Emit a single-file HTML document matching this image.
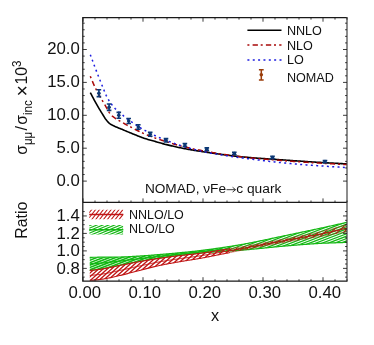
<!DOCTYPE html>
<html><head><meta charset="utf-8"><title>chart</title><style>html,body{margin:0;padding:0;background:#fff;}body{width:374px;height:345px;overflow:hidden;font-family:"Liberation Sans",sans-serif;}svg{display:block;will-change:transform;}</style></head><body>
<svg width="374" height="345" viewBox="0 0 374 345">
<rect width="374" height="345" fill="#fff"/>
<defs><clipPath id="c1"><rect x="82.8" y="17.7" width="264.2" height="184.7"/></clipPath><clipPath id="c2"><rect x="82.8" y="202.4" width="264.2" height="78.8"/></clipPath></defs>
<defs><clipPath id="cg"><path d="M89.8 257.3 L91.09 257.29 L92.39 257.27 L93.68 257.26 L94.98 257.25 L96.27 257.24 L97.57 257.22 L98.86 257.21 L100.16 257.2 L101.45 257.19 L102.75 257.17 L104.04 257.16 L105.34 257.15 L106.63 257.14 L107.93 257.13 L109.22 257.12 L110.52 257.11 L111.81 257.1 L113.11 257.09 L114.4 257.08 L115.7 257.06 L116.99 257.04 L118.29 257.03 L119.58 257.01 L120.88 256.98 L122.17 256.95 L123.47 256.91 L124.76 256.86 L126.06 256.81 L127.35 256.75 L128.65 256.68 L129.94 256.61 L131.24 256.54 L132.53 256.46 L133.83 256.38 L135.12 256.3 L136.42 256.22 L137.71 256.14 L139.01 256.06 L140.3 255.98 L141.6 255.9 L142.89 255.82 L144.19 255.73 L145.48 255.64 L146.78 255.55 L148.07 255.45 L149.37 255.35 L150.66 255.25 L151.96 255.15 L153.25 255.05 L154.55 254.94 L155.84 254.84 L157.14 254.73 L158.43 254.63 L159.73 254.52 L161.02 254.42 L162.32 254.31 L163.61 254.2 L164.91 254.09 L166.2 253.98 L167.5 253.86 L168.79 253.75 L170.09 253.63 L171.38 253.51 L172.68 253.39 L173.97 253.27 L175.27 253.15 L176.56 253.03 L177.86 252.91 L179.15 252.78 L180.45 252.66 L181.74 252.53 L183.04 252.4 L184.33 252.28 L185.63 252.15 L186.92 252.02 L188.22 251.89 L189.51 251.75 L190.81 251.62 L192.1 251.48 L193.4 251.34 L194.69 251.2 L195.99 251.06 L197.28 250.91 L198.58 250.77 L199.87 250.62 L201.17 250.46 L202.46 250.3 L203.76 250.14 L205.05 249.97 L206.35 249.81 L207.64 249.63 L208.94 249.46 L210.23 249.28 L211.53 249.1 L212.82 248.92 L214.12 248.74 L215.41 248.56 L216.71 248.37 L218 248.19 L219.3 248 L220.59 247.81 L221.89 247.63 L223.18 247.44 L224.48 247.25 L225.77 247.06 L227.07 246.86 L228.36 246.67 L229.66 246.47 L230.95 246.27 L232.25 246.07 L233.54 245.87 L234.84 245.66 L236.13 245.45 L237.43 245.24 L238.72 245.02 L240.02 244.8 L241.31 244.57 L242.61 244.34 L243.9 244.1 L245.2 243.86 L246.49 243.61 L247.79 243.36 L249.08 243.11 L250.38 242.85 L251.67 242.59 L252.97 242.33 L254.26 242.07 L255.56 241.8 L256.85 241.54 L258.15 241.28 L259.44 241.01 L260.74 240.75 L262.03 240.49 L263.33 240.22 L264.62 239.95 L265.92 239.68 L267.21 239.41 L268.51 239.14 L269.8 238.86 L271.1 238.59 L272.39 238.31 L273.69 238.04 L274.98 237.76 L276.28 237.49 L277.57 237.21 L278.87 236.94 L280.16 236.67 L281.46 236.39 L282.75 236.12 L284.05 235.85 L285.34 235.58 L286.64 235.31 L287.93 235.03 L289.23 234.76 L290.52 234.49 L291.82 234.22 L293.11 233.95 L294.41 233.67 L295.7 233.4 L297 233.13 L298.29 232.86 L299.59 232.59 L300.88 232.32 L302.18 232.04 L303.47 231.77 L304.77 231.5 L306.06 231.23 L307.36 230.96 L308.65 230.69 L309.95 230.42 L311.24 230.15 L312.54 229.88 L313.83 229.61 L315.13 229.34 L316.42 229.06 L317.72 228.79 L319.01 228.51 L320.31 228.23 L321.6 227.95 L322.9 227.67 L324.19 227.39 L325.49 227.11 L326.78 226.82 L328.08 226.54 L329.37 226.25 L330.67 225.96 L331.96 225.68 L333.26 225.39 L334.55 225.1 L335.85 224.81 L337.14 224.52 L338.44 224.23 L339.73 223.94 L341.03 223.65 L342.32 223.36 L343.62 223.07 L344.91 222.78 L346.21 222.49 L347.5 222.2 L347.5 242.4 L346.21 242.44 L344.91 242.48 L343.62 242.52 L342.32 242.56 L341.03 242.6 L339.73 242.64 L338.44 242.68 L337.14 242.73 L335.85 242.77 L334.55 242.82 L333.26 242.86 L331.96 242.91 L330.67 242.95 L329.37 243 L328.08 243.05 L326.78 243.1 L325.49 243.15 L324.19 243.21 L322.9 243.26 L321.6 243.32 L320.31 243.38 L319.01 243.45 L317.72 243.52 L316.42 243.6 L315.13 243.68 L313.83 243.76 L312.54 243.85 L311.24 243.94 L309.95 244.04 L308.65 244.13 L307.36 244.23 L306.06 244.33 L304.77 244.43 L303.47 244.53 L302.18 244.63 L300.88 244.73 L299.59 244.83 L298.29 244.93 L297 245.03 L295.7 245.14 L294.41 245.24 L293.11 245.35 L291.82 245.46 L290.52 245.57 L289.23 245.68 L287.93 245.79 L286.64 245.9 L285.34 246.02 L284.05 246.13 L282.75 246.25 L281.46 246.37 L280.16 246.49 L278.87 246.61 L277.57 246.73 L276.28 246.86 L274.98 246.98 L273.69 247.11 L272.39 247.25 L271.1 247.38 L269.8 247.51 L268.51 247.65 L267.21 247.78 L265.92 247.91 L264.62 248.05 L263.33 248.18 L262.03 248.3 L260.74 248.43 L259.44 248.55 L258.15 248.68 L256.85 248.8 L255.56 248.92 L254.26 249.05 L252.97 249.17 L251.67 249.29 L250.38 249.41 L249.08 249.53 L247.79 249.65 L246.49 249.77 L245.2 249.88 L243.9 249.99 L242.61 250.1 L241.31 250.2 L240.02 250.3 L238.72 250.39 L237.43 250.49 L236.13 250.57 L234.84 250.66 L233.54 250.74 L232.25 250.83 L230.95 250.91 L229.66 250.99 L228.36 251.06 L227.07 251.14 L225.77 251.22 L224.48 251.3 L223.18 251.39 L221.89 251.47 L220.59 251.56 L219.3 251.65 L218 251.74 L216.71 251.83 L215.41 251.92 L214.12 252.01 L212.82 252.1 L211.53 252.19 L210.23 252.28 L208.94 252.38 L207.64 252.48 L206.35 252.57 L205.05 252.68 L203.76 252.78 L202.46 252.89 L201.17 253 L199.87 253.11 L198.58 253.23 L197.28 253.35 L195.99 253.48 L194.69 253.61 L193.4 253.75 L192.1 253.89 L190.81 254.03 L189.51 254.17 L188.22 254.32 L186.92 254.47 L185.63 254.62 L184.33 254.78 L183.04 254.93 L181.74 255.09 L180.45 255.25 L179.15 255.4 L177.86 255.56 L176.56 255.72 L175.27 255.89 L173.97 256.06 L172.68 256.22 L171.38 256.4 L170.09 256.57 L168.79 256.75 L167.5 256.92 L166.2 257.1 L164.91 257.29 L163.61 257.47 L162.32 257.66 L161.02 257.85 L159.73 258.04 L158.43 258.23 L157.14 258.43 L155.84 258.63 L154.55 258.84 L153.25 259.04 L151.96 259.25 L150.66 259.46 L149.37 259.68 L148.07 259.9 L146.78 260.12 L145.48 260.34 L144.19 260.56 L142.89 260.79 L141.6 261.02 L140.3 261.25 L139.01 261.48 L137.71 261.72 L136.42 261.96 L135.12 262.2 L133.83 262.45 L132.53 262.7 L131.24 262.96 L129.94 263.21 L128.65 263.47 L127.35 263.73 L126.06 263.99 L124.76 264.25 L123.47 264.51 L122.17 264.77 L120.88 265.03 L119.58 265.28 L118.29 265.54 L116.99 265.81 L115.7 266.09 L114.4 266.37 L113.11 266.65 L111.81 266.92 L110.52 267.2 L109.22 267.48 L107.93 267.75 L106.63 268.01 L105.34 268.27 L104.04 268.51 L102.75 268.75 L101.45 268.97 L100.16 269.18 L98.86 269.37 L97.57 269.54 L96.27 269.71 L94.98 269.87 L93.68 270.03 L92.39 270.18 L91.09 270.34 L89.8 270.5Z"/></clipPath><clipPath id="cr"><path d="M89.8 270.5 L91.09 270.35 L92.39 270.21 L93.68 270.07 L94.98 269.92 L96.27 269.78 L97.57 269.62 L98.86 269.46 L100.16 269.28 L101.45 269.08 L102.75 268.87 L104.04 268.65 L105.34 268.41 L106.63 268.16 L107.93 267.9 L109.22 267.64 L110.52 267.37 L111.81 267.1 L113.11 266.82 L114.4 266.55 L115.7 266.28 L116.99 266.01 L118.29 265.74 L119.58 265.48 L120.88 265.23 L122.17 264.97 L123.47 264.72 L124.76 264.46 L126.06 264.2 L127.35 263.94 L128.65 263.68 L129.94 263.42 L131.24 263.16 L132.53 262.91 L133.83 262.66 L135.12 262.41 L136.42 262.16 L137.71 261.92 L139.01 261.68 L140.3 261.45 L141.6 261.22 L142.89 260.99 L144.19 260.76 L145.48 260.53 L146.78 260.31 L148.07 260.09 L149.37 259.87 L150.66 259.66 L151.96 259.44 L153.25 259.23 L154.55 259.03 L155.84 258.83 L157.14 258.63 L158.43 258.43 L159.73 258.24 L161.02 258.05 L162.32 257.87 L163.61 257.69 L164.91 257.51 L166.2 257.34 L167.5 257.17 L168.79 257 L170.09 256.83 L171.38 256.67 L172.68 256.5 L173.97 256.34 L175.27 256.18 L176.56 256.02 L177.86 255.86 L179.15 255.7 L180.45 255.55 L181.74 255.39 L183.04 255.24 L184.33 255.09 L185.63 254.95 L186.92 254.81 L188.22 254.67 L189.51 254.52 L190.81 254.38 L192.1 254.24 L193.4 254.09 L194.69 253.95 L195.99 253.8 L197.28 253.64 L198.58 253.48 L199.87 253.32 L201.17 253.15 L202.46 252.97 L203.76 252.79 L205.05 252.6 L206.35 252.41 L207.64 252.22 L208.94 252.02 L210.23 251.83 L211.53 251.63 L212.82 251.42 L214.12 251.22 L215.41 251.02 L216.71 250.81 L218 250.61 L219.3 250.41 L220.59 250.21 L221.89 250.01 L223.18 249.81 L224.48 249.6 L225.77 249.4 L227.07 249.2 L228.36 248.99 L229.66 248.79 L230.95 248.58 L232.25 248.37 L233.54 248.16 L234.84 247.95 L236.13 247.74 L237.43 247.53 L238.72 247.31 L240.02 247.1 L241.31 246.88 L242.61 246.66 L243.9 246.44 L245.2 246.22 L246.49 245.99 L247.79 245.77 L249.08 245.54 L250.38 245.32 L251.67 245.09 L252.97 244.86 L254.26 244.63 L255.56 244.4 L256.85 244.17 L258.15 243.93 L259.44 243.7 L260.74 243.47 L262.03 243.23 L263.33 243 L264.62 242.76 L265.92 242.53 L267.21 242.29 L268.51 242.05 L269.8 241.81 L271.1 241.57 L272.39 241.33 L273.69 241.09 L274.98 240.85 L276.28 240.6 L277.57 240.36 L278.87 240.11 L280.16 239.87 L281.46 239.62 L282.75 239.38 L284.05 239.13 L285.34 238.88 L286.64 238.63 L287.93 238.38 L289.23 238.13 L290.52 237.87 L291.82 237.62 L293.11 237.37 L294.41 237.11 L295.7 236.85 L297 236.6 L298.29 236.34 L299.59 236.08 L300.88 235.82 L302.18 235.57 L303.47 235.31 L304.77 235.06 L306.06 234.81 L307.36 234.55 L308.65 234.3 L309.95 234.04 L311.24 233.78 L312.54 233.51 L313.83 233.25 L315.13 232.98 L316.42 232.7 L317.72 232.42 L319.01 232.13 L320.31 231.83 L321.6 231.52 L322.9 231.21 L324.19 230.88 L325.49 230.55 L326.78 230.21 L328.08 229.87 L329.37 229.52 L330.67 229.18 L331.96 228.82 L333.26 228.47 L334.55 228.12 L335.85 227.77 L337.14 227.42 L338.44 227.06 L339.73 226.69 L341.03 226.33 L342.32 225.96 L343.62 225.6 L344.91 225.23 L346.21 224.86 L347.5 224.5 L347.5 231.5 L346.21 231.74 L344.91 231.98 L343.62 232.22 L342.32 232.46 L341.03 232.69 L339.73 232.93 L338.44 233.17 L337.14 233.41 L335.85 233.65 L334.55 233.88 L333.26 234.12 L331.96 234.36 L330.67 234.6 L329.37 234.83 L328.08 235.07 L326.78 235.31 L325.49 235.54 L324.19 235.78 L322.9 236 L321.6 236.23 L320.31 236.45 L319.01 236.66 L317.72 236.87 L316.42 237.08 L315.13 237.28 L313.83 237.48 L312.54 237.68 L311.24 237.88 L309.95 238.07 L308.65 238.27 L307.36 238.46 L306.06 238.66 L304.77 238.85 L303.47 239.05 L302.18 239.25 L300.88 239.46 L299.59 239.67 L298.29 239.88 L297 240.09 L295.7 240.3 L294.41 240.52 L293.11 240.74 L291.82 240.95 L290.52 241.17 L289.23 241.39 L287.93 241.62 L286.64 241.84 L285.34 242.06 L284.05 242.29 L282.75 242.52 L281.46 242.74 L280.16 242.97 L278.87 243.2 L277.57 243.43 L276.28 243.67 L274.98 243.9 L273.69 244.14 L272.39 244.38 L271.1 244.62 L269.8 244.86 L268.51 245.1 L267.21 245.34 L265.92 245.58 L264.62 245.83 L263.33 246.07 L262.03 246.31 L260.74 246.56 L259.44 246.81 L258.15 247.05 L256.85 247.3 L255.56 247.55 L254.26 247.8 L252.97 248.06 L251.67 248.31 L250.38 248.56 L249.08 248.82 L247.79 249.07 L246.49 249.33 L245.2 249.58 L243.9 249.84 L242.61 250.09 L241.31 250.34 L240.02 250.6 L238.72 250.85 L237.43 251.1 L236.13 251.35 L234.84 251.61 L233.54 251.86 L232.25 252.11 L230.95 252.36 L229.66 252.62 L228.36 252.87 L227.07 253.12 L225.77 253.37 L224.48 253.63 L223.18 253.88 L221.89 254.13 L220.59 254.38 L219.3 254.64 L218 254.89 L216.71 255.15 L215.41 255.41 L214.12 255.67 L212.82 255.93 L211.53 256.19 L210.23 256.44 L208.94 256.7 L207.64 256.96 L206.35 257.21 L205.05 257.46 L203.76 257.71 L202.46 257.95 L201.17 258.19 L199.87 258.42 L198.58 258.65 L197.28 258.87 L195.99 259.09 L194.69 259.31 L193.4 259.52 L192.1 259.72 L190.81 259.93 L189.51 260.14 L188.22 260.34 L186.92 260.55 L185.63 260.76 L184.33 260.97 L183.04 261.18 L181.74 261.4 L180.45 261.62 L179.15 261.85 L177.86 262.07 L176.56 262.3 L175.27 262.52 L173.97 262.75 L172.68 262.98 L171.38 263.21 L170.09 263.44 L168.79 263.68 L167.5 263.92 L166.2 264.16 L164.91 264.41 L163.61 264.66 L162.32 264.92 L161.02 265.19 L159.73 265.46 L158.43 265.74 L157.14 266.03 L155.84 266.32 L154.55 266.63 L153.25 266.94 L151.96 267.26 L150.66 267.58 L149.37 267.91 L148.07 268.23 L146.78 268.57 L145.48 268.9 L144.19 269.23 L142.89 269.56 L141.6 269.89 L140.3 270.22 L139.01 270.55 L137.71 270.89 L136.42 271.23 L135.12 271.58 L133.83 271.93 L132.53 272.28 L131.24 272.63 L129.94 272.98 L128.65 273.33 L127.35 273.67 L126.06 274.01 L124.76 274.35 L123.47 274.67 L122.17 274.99 L120.88 275.3 L119.58 275.59 L118.29 275.89 L116.99 276.19 L115.7 276.49 L114.4 276.79 L113.11 277.08 L111.81 277.37 L110.52 277.66 L109.22 277.94 L107.93 278.2 L106.63 278.46 L105.34 278.7 L104.04 278.92 L102.75 279.13 L101.45 279.31 L100.16 279.48 L98.86 279.63 L97.57 279.76 L96.27 279.87 L94.98 279.98 L93.68 280.08 L92.39 280.19 L91.09 280.29 L89.8 280.4Z"/></clipPath><clipPath id="cgl"><rect x="80" y="200" width="150" height="90"/></clipPath><clipPath id="cgr"><rect x="230" y="200" width="130" height="90"/></clipPath><clipPath id="lg1"><rect x="89.2" y="209.8" width="34.1" height="9.4"/></clipPath><clipPath id="lg2"><rect x="89.2" y="225.0" width="34.1" height="9.4"/></clipPath></defs>
<g clip-path="url(#c2)" fill="none" stroke-linecap="butt">
<g clip-path="url(#cg)"><g clip-path="url(#cgl)"><path d="M89 215L348 115.58 M89 217.4L348 117.98 M89 219.8L348 120.38 M89 222.2L348 122.78 M89 224.6L348 125.18 M89 227L348 127.58 M89 229.4L348 129.98 M89 231.8L348 132.38 M89 234.2L348 134.78 M89 236.6L348 137.18 M89 239L348 139.58 M89 241.4L348 141.98 M89 243.8L348 144.38 M89 246.2L348 146.78 M89 248.6L348 149.18 M89 251L348 151.58 M89 253.4L348 153.98 M89 255.8L348 156.38 M89 258.2L348 158.78 M89 260.6L348 161.18 M89 263L348 163.58 M89 265.4L348 165.98 M89 267.8L348 168.38 M89 270.2L348 170.78 M89 272.6L348 173.18 M89 275L348 175.58 M89 277.4L348 177.98 M89 279.8L348 180.38 M89 282.2L348 182.78 M89 284.6L348 185.18 M89 287L348 187.58 M89 289.4L348 189.98 M89 291.8L348 192.38 M89 294.2L348 194.78 M89 296.6L348 197.18 M89 299L348 199.58 M89 301.4L348 201.98 M89 303.8L348 204.38 M89 306.2L348 206.78 M89 308.6L348 209.18 M89 311L348 211.58 M89 313.4L348 213.98 M89 315.8L348 216.38 M89 318.2L348 218.78 M89 320.6L348 221.18 M89 323L348 223.58 M89 325.4L348 225.98 M89 327.8L348 228.38 M89 330.2L348 230.78 M89 332.6L348 233.18 M89 335L348 235.58 M89 337.4L348 237.98 M89 339.8L348 240.38 M89 342.2L348 242.78 M89 344.6L348 245.18 M89 347L348 247.58 M89 349.4L348 249.98 M89 351.8L348 252.38 M89 354.2L348 254.78 M89 356.6L348 257.18 M89 359L348 259.58 M89 361.4L348 261.98 M89 363.8L348 264.38 M89 366.2L348 266.78 M89 368.6L348 269.18 M89 371L348 271.58" stroke="#14b814" stroke-width="1.6"/></g><g clip-path="url(#cgr)"><path d="M89 215L348 115.58 M89 217.4L348 117.98 M89 219.8L348 120.38 M89 222.2L348 122.78 M89 224.6L348 125.18 M89 227L348 127.58 M89 229.4L348 129.98 M89 231.8L348 132.38 M89 234.2L348 134.78 M89 236.6L348 137.18 M89 239L348 139.58 M89 241.4L348 141.98 M89 243.8L348 144.38 M89 246.2L348 146.78 M89 248.6L348 149.18 M89 251L348 151.58 M89 253.4L348 153.98 M89 255.8L348 156.38 M89 258.2L348 158.78 M89 260.6L348 161.18 M89 263L348 163.58 M89 265.4L348 165.98 M89 267.8L348 168.38 M89 270.2L348 170.78 M89 272.6L348 173.18 M89 275L348 175.58 M89 277.4L348 177.98 M89 279.8L348 180.38 M89 282.2L348 182.78 M89 284.6L348 185.18 M89 287L348 187.58 M89 289.4L348 189.98 M89 291.8L348 192.38 M89 294.2L348 194.78 M89 296.6L348 197.18 M89 299L348 199.58 M89 301.4L348 201.98 M89 303.8L348 204.38 M89 306.2L348 206.78 M89 308.6L348 209.18 M89 311L348 211.58 M89 313.4L348 213.98 M89 315.8L348 216.38 M89 318.2L348 218.78 M89 320.6L348 221.18 M89 323L348 223.58 M89 325.4L348 225.98 M89 327.8L348 228.38 M89 330.2L348 230.78 M89 332.6L348 233.18 M89 335L348 235.58 M89 337.4L348 237.98 M89 339.8L348 240.38 M89 342.2L348 242.78 M89 344.6L348 245.18 M89 347L348 247.58 M89 349.4L348 249.98 M89 351.8L348 252.38 M89 354.2L348 254.78 M89 356.6L348 257.18 M89 359L348 259.58 M89 361.4L348 261.98 M89 363.8L348 264.38 M89 366.2L348 266.78 M89 368.6L348 269.18 M89 371L348 271.58" stroke="#14b814" stroke-width="1.25"/></g></g>
<path d="M89.8 257.3 L90.79 257.29 L91.79 257.28 L92.78 257.27 L93.78 257.26 L94.77 257.25 L95.77 257.24 L96.76 257.23 L97.76 257.22 L98.75 257.21 L99.75 257.2 L100.74 257.19 L101.74 257.18 L102.73 257.18 L103.73 257.17 L104.72 257.16 L105.72 257.15 L106.71 257.14 L107.71 257.14 L108.7 257.13 L109.7 257.12 L110.69 257.11 L111.69 257.1 L112.68 257.09 L113.68 257.08 L114.67 257.07 L115.67 257.06 L116.66 257.05 L117.66 257.04 L118.65 257.02 L119.65 257.01 L120.64 256.99 L121.64 256.97 L122.63 256.94 L123.63 256.9 L124.62 256.87 L125.62 256.83 L126.61 256.78 L127.61 256.73 L128.6 256.68 L129.6 256.63 L130.59 256.57 L131.59 256.52 L132.58 256.46 L133.58 256.4 L134.57 256.34 L135.57 256.27 L136.56 256.21 L137.56 256.15 L138.55 256.09 L139.55 256.03 L140.54 255.97 L141.54 255.9 L142.53 255.84 L143.53 255.77 L144.52 255.71 L145.52 255.64 L146.51 255.57 L147.51 255.49 L148.5 255.42 L149.5 255.34 L150.49 255.27 L151.49 255.19 L152.48 255.11 L153.48 255.03 L154.47 254.95 L155.47 254.87 L156.46 254.79 L157.46 254.71 L158.45 254.63 L159.45 254.55 L160.44 254.46 L161.44 254.38 L162.43 254.3 L163.43 254.21 L164.42 254.13 L165.42 254.04 L166.41 253.96 L167.41 253.87 L168.4 253.78 L169.4 253.69 L170.39 253.6 L171.39 253.51 L172.38 253.42 L173.38 253.33 L174.37 253.24 L175.37 253.14 L176.36 253.05 L177.36 252.95 L178.35 252.86 L179.35 252.76 L180.34 252.67 L181.34 252.57 L182.33 252.47 L183.33 252.38 L184.32 252.28 L185.32 252.18 L186.31 252.08 L187.31 251.98 L188.3 251.88 L189.3 251.78 L190.29 251.67 L191.29 251.57 L192.28 251.46 L193.28 251.36 L194.27 251.25 L195.27 251.14 L196.26 251.03 L197.26 250.92 L198.25 250.8 L199.25 250.69 L200.24 250.57 L201.24 250.45 L202.23 250.33 L203.23 250.21 L204.22 250.08 L205.22 249.95 L206.21 249.82 L207.21 249.69 L208.2 249.56 L209.2 249.42 L210.19 249.29 L211.19 249.15 L212.18 249.01 L213.18 248.87 L214.17 248.73 L215.17 248.59 L216.16 248.45 L217.16 248.31 L218.15 248.17 L219.15 248.02 L220.14 247.88 L221.14 247.74 L222.13 247.59 L223.13 247.45 L224.12 247.3 L225.12 247.15 L226.11 247.01 L227.11 246.86 L228.1 246.71 L229.1 246.56 L230.09 246.41 L231.09 246.25 L232.08 246.1 L233.08 245.94 L234.07 245.78 L235.07 245.62 L236.06 245.46 L237.06 245.3 L238.05 245.13 L239.05 244.96 L240.04 244.79 L241.04 244.62 L242.03 244.44 L243.03 244.26 L244.02 244.08 L245.02 243.89 L246.01 243.7 L247.01 243.51 L248 243.32 L249 243.12 L249.99 242.93 L250.99 242.73 L251.98 242.53 L252.98 242.33 L253.97 242.13 L254.97 241.92 L255.96 241.72 L256.96 241.52 L257.95 241.32 L258.95 241.11 L259.94 240.91 L260.94 240.71 L261.93 240.51 L262.93 240.3 L263.92 240.1 L264.92 239.89 L265.91 239.68 L266.91 239.47 L267.9 239.26 L268.9 239.05 L269.89 238.84 L270.89 238.63 L271.88 238.42 L272.88 238.21 L273.87 238 L274.87 237.79 L275.86 237.57 L276.86 237.36 L277.85 237.15 L278.85 236.94 L279.84 236.73 L280.84 236.52 L281.83 236.32 L282.83 236.11 L283.82 235.9 L284.82 235.69 L285.81 235.48 L286.81 235.27 L287.8 235.06 L288.8 234.85 L289.79 234.64 L290.79 234.43 L291.78 234.23 L292.78 234.02 L293.77 233.81 L294.77 233.6 L295.76 233.39 L296.76 233.18 L297.75 232.97 L298.75 232.76 L299.74 232.55 L300.74 232.35 L301.73 232.14 L302.73 231.93 L303.72 231.72 L304.72 231.51 L305.71 231.31 L306.71 231.1 L307.7 230.89 L308.7 230.68 L309.69 230.48 L310.69 230.27 L311.68 230.06 L312.68 229.85 L313.67 229.64 L314.67 229.43 L315.66 229.22 L316.66 229.01 L317.65 228.8 L318.65 228.59 L319.64 228.38 L320.64 228.16 L321.63 227.95 L322.63 227.73 L323.62 227.52 L324.62 227.3 L325.61 227.08 L326.61 226.86 L327.6 226.64 L328.6 226.42 L329.59 226.2 L330.59 225.98 L331.58 225.76 L332.58 225.54 L333.57 225.32 L334.57 225.1 L335.56 224.88 L336.56 224.65 L337.55 224.43 L338.55 224.21 L339.54 223.99 L340.54 223.76 L341.53 223.54 L342.53 223.32 L343.52 223.09 L344.52 222.87 L345.51 222.65 L346.51 222.42 L347.5 222.2" stroke="#14b814" stroke-width="1.2"/>
<path d="M89.8 270.5 L90.79 270.38 L91.79 270.25 L92.78 270.13 L93.78 270.02 L94.77 269.9 L95.77 269.77 L96.76 269.65 L97.76 269.52 L98.75 269.38 L99.75 269.24 L100.74 269.08 L101.74 268.92 L102.73 268.75 L103.73 268.57 L104.72 268.39 L105.72 268.19 L106.71 268 L107.71 267.79 L108.7 267.59 L109.7 267.38 L110.69 267.17 L111.69 266.95 L112.68 266.74 L113.68 266.52 L114.67 266.31 L115.67 266.09 L116.66 265.88 L117.66 265.68 L118.65 265.47 L119.65 265.27 L120.64 265.07 L121.64 264.87 L122.63 264.68 L123.63 264.48 L124.62 264.28 L125.62 264.08 L126.61 263.88 L127.61 263.68 L128.6 263.48 L129.6 263.28 L130.59 263.09 L131.59 262.89 L132.58 262.69 L133.58 262.5 L134.57 262.31 L135.57 262.12 L136.56 261.93 L137.56 261.74 L138.55 261.56 L139.55 261.38 L140.54 261.2 L141.54 261.03 L142.53 260.85 L143.53 260.68 L144.52 260.5 L145.52 260.33 L146.51 260.16 L147.51 259.99 L148.5 259.82 L149.5 259.66 L150.49 259.49 L151.49 259.33 L152.48 259.17 L153.48 259.01 L154.47 258.85 L155.47 258.69 L156.46 258.54 L157.46 258.38 L158.45 258.23 L159.45 258.08 L160.44 257.93 L161.44 257.79 L162.43 257.64 L163.43 257.5 L164.42 257.36 L165.42 257.21 L166.41 257.07 L167.41 256.94 L168.4 256.8 L169.4 256.66 L170.39 256.53 L171.39 256.4 L172.38 256.26 L173.38 256.13 L174.37 256 L175.37 255.88 L176.36 255.75 L177.36 255.63 L178.35 255.5 L179.35 255.38 L180.34 255.26 L181.34 255.14 L182.33 255.02 L183.33 254.9 L184.32 254.78 L185.32 254.66 L186.31 254.54 L187.31 254.43 L188.3 254.31 L189.3 254.2 L190.29 254.09 L191.29 253.98 L192.28 253.87 L193.28 253.76 L194.27 253.66 L195.27 253.55 L196.26 253.45 L197.26 253.36 L198.25 253.26 L199.25 253.17 L200.24 253.08 L201.24 252.99 L202.23 252.91 L203.23 252.82 L204.22 252.74 L205.22 252.66 L206.21 252.59 L207.21 252.51 L208.2 252.43 L209.2 252.36 L210.19 252.29 L211.19 252.22 L212.18 252.14 L213.18 252.07 L214.17 252 L215.17 251.93 L216.16 251.87 L217.16 251.8 L218.15 251.73 L219.15 251.66 L220.14 251.59 L221.14 251.52 L222.13 251.46 L223.13 251.39 L224.12 251.33 L225.12 251.26 L226.11 251.2 L227.11 251.14 L228.1 251.08 L229.1 251.02 L230.09 250.96 L231.09 250.9 L232.08 250.84 L233.08 250.77 L234.07 250.71 L235.07 250.65 L236.06 250.58 L237.06 250.51 L238.05 250.44 L239.05 250.37 L240.04 250.3 L241.04 250.22 L242.03 250.14 L243.03 250.06 L244.02 249.98 L245.02 249.89 L246.01 249.81 L247.01 249.72 L248 249.63 L249 249.54 L249.99 249.45 L250.99 249.36 L251.98 249.26 L252.98 249.17 L253.97 249.07 L254.97 248.98 L255.96 248.89 L256.96 248.79 L257.95 248.69 L258.95 248.6 L259.94 248.51 L260.94 248.41 L261.93 248.31 L262.93 248.22 L263.92 248.12 L264.92 248.02 L265.91 247.91 L266.91 247.81 L267.9 247.71 L268.9 247.61 L269.89 247.5 L270.89 247.4 L271.88 247.3 L272.88 247.2 L273.87 247.1 L274.87 247 L275.86 246.9 L276.86 246.8 L277.85 246.7 L278.85 246.61 L279.84 246.51 L280.84 246.42 L281.83 246.33 L282.83 246.24 L283.82 246.15 L284.82 246.06 L285.81 245.98 L286.81 245.89 L287.8 245.8 L288.8 245.72 L289.79 245.63 L290.79 245.55 L291.78 245.46 L292.78 245.38 L293.77 245.3 L294.77 245.21 L295.76 245.13 L296.76 245.05 L297.75 244.98 L298.75 244.9 L299.74 244.82 L300.74 244.74 L301.73 244.67 L302.73 244.59 L303.72 244.51 L304.72 244.43 L305.71 244.36 L306.71 244.28 L307.7 244.21 L308.7 244.13 L309.69 244.06 L310.69 243.98 L311.68 243.91 L312.68 243.84 L313.67 243.78 L314.67 243.71 L315.66 243.65 L316.66 243.59 L317.65 243.53 L318.65 243.47 L319.64 243.42 L320.64 243.37 L321.63 243.32 L322.63 243.27 L323.62 243.23 L324.62 243.19 L325.61 243.15 L326.61 243.11 L327.6 243.07 L328.6 243.03 L329.59 242.99 L330.59 242.96 L331.58 242.92 L332.58 242.89 L333.57 242.85 L334.57 242.82 L335.56 242.78 L336.56 242.75 L337.55 242.71 L338.55 242.68 L339.54 242.65 L340.54 242.62 L341.53 242.59 L342.53 242.56 L343.52 242.52 L344.52 242.49 L345.51 242.46 L346.51 242.43 L347.5 242.4" stroke="#14b814" stroke-width="1.2"/>
<g clip-path="url(#cgl)"><path d="M89.8 263.9 L90.79 263.83 L91.79 263.77 L92.78 263.7 L93.78 263.64 L94.77 263.57 L95.77 263.51 L96.76 263.44 L97.76 263.37 L98.75 263.3 L99.75 263.22 L100.74 263.14 L101.74 263.05 L102.73 262.96 L103.73 262.87 L104.72 262.78 L105.72 262.68 L106.71 262.58 L107.71 262.47 L108.7 262.37 L109.7 262.26 L110.69 262.15 L111.69 262.04 L112.68 261.93 L113.68 261.82 L114.67 261.71 L115.67 261.59 L116.66 261.48 L117.66 261.37 L118.65 261.25 L119.65 261.14 L120.64 261.03 L121.64 260.91 L122.63 260.8 L123.63 260.68 L124.62 260.56 L125.62 260.44 L126.61 260.32 L127.61 260.19 L128.6 260.07 L129.6 259.95 L130.59 259.82 L131.59 259.7 L132.58 259.57 L133.58 259.45 L134.57 259.32 L135.57 259.2 L136.56 259.07 L137.56 258.95 L138.55 258.83 L139.55 258.7 L140.54 258.58 L141.54 258.46 L142.53 258.34 L143.53 258.22 L144.52 258.1 L145.52 257.98 L146.51 257.86 L147.51 257.74 L148.5 257.62 L149.5 257.5 L150.49 257.38 L151.49 257.26 L152.48 257.14 L153.48 257.02 L154.47 256.9 L155.47 256.78 L156.46 256.66 L157.46 256.55 L158.45 256.43 L159.45 256.31 L160.44 256.2 L161.44 256.08 L162.43 255.97 L163.43 255.85 L164.42 255.74 L165.42 255.63 L166.41 255.51 L167.41 255.4 L168.4 255.29 L169.4 255.18 L170.39 255.07 L171.39 254.95 L172.38 254.84 L173.38 254.73 L174.37 254.62 L175.37 254.51 L176.36 254.4 L177.36 254.29 L178.35 254.18 L179.35 254.07 L180.34 253.96 L181.34 253.85 L182.33 253.74 L183.33 253.64 L184.32 253.53 L185.32 253.42 L186.31 253.31 L187.31 253.21 L188.3 253.1 L189.3 252.99 L190.29 252.88 L191.29 252.78 L192.28 252.67 L193.28 252.57 L194.27 252.46 L195.27 252.35 L196.26 252.25 L197.26 252.14 L198.25 252.04 L199.25 251.93 L200.24 251.82 L201.24 251.72 L202.23 251.61 L203.23 251.51 L204.22 251.41 L205.22 251.3 L206.21 251.2 L207.21 251.09 L208.2 250.99 L209.2 250.89 L210.19 250.78 L211.19 250.68 L212.18 250.58 L213.18 250.47 L214.17 250.37 L215.17 250.26 L216.16 250.16 L217.16 250.05 L218.15 249.95 L219.15 249.84 L220.14 249.73 L221.14 249.63 L222.13 249.52 L223.13 249.42 L224.12 249.31 L225.12 249.21 L226.11 249.1 L227.11 249 L228.1 248.89 L229.1 248.79 L230.09 248.68 L231.09 248.57 L232.08 248.47 L233.08 248.36 L234.07 248.25 L235.07 248.13 L236.06 248.02 L237.06 247.9 L238.05 247.79 L239.05 247.67 L240.04 247.54 L241.04 247.42 L242.03 247.29 L243.03 247.16 L244.02 247.03 L245.02 246.89 L246.01 246.75 L247.01 246.62 L248 246.47 L249 246.33 L249.99 246.19 L250.99 246.04 L251.98 245.9 L252.98 245.75 L253.97 245.6 L254.97 245.45 L255.96 245.3 L256.96 245.15 L257.95 245.01 L258.95 244.86 L259.94 244.71 L260.94 244.56 L261.93 244.41 L262.93 244.26 L263.92 244.11 L264.92 243.95 L265.91 243.8 L266.91 243.64 L267.9 243.49 L268.9 243.33 L269.89 243.17 L270.89 243.02 L271.88 242.86 L272.88 242.7 L273.87 242.55 L274.87 242.39 L275.86 242.24 L276.86 242.08 L277.85 241.93 L278.85 241.78 L279.84 241.62 L280.84 241.47 L281.83 241.32 L282.83 241.17 L283.82 241.02 L284.82 240.88 L285.81 240.73 L286.81 240.58 L287.8 240.43 L288.8 240.28 L289.79 240.14 L290.79 239.99 L291.78 239.84 L292.78 239.7 L293.77 239.55 L294.77 239.41 L295.76 239.26 L296.76 239.12 L297.75 238.97 L298.75 238.83 L299.74 238.69 L300.74 238.54 L301.73 238.4 L302.73 238.26 L303.72 238.12 L304.72 237.98 L305.71 237.83 L306.71 237.69 L307.7 237.55 L308.7 237.41 L309.69 237.27 L310.69 237.13 L311.68 236.99 L312.68 236.85 L313.67 236.72 L314.67 236.58 L315.66 236.44 L316.66 236.3 L317.65 236.17 L318.65 236.03 L319.64 235.9 L320.64 235.76 L321.63 235.63 L322.63 235.5 L323.62 235.37 L324.62 235.24 L325.61 235.11 L326.61 234.98 L327.6 234.85 L328.6 234.72 L329.59 234.6 L330.59 234.47 L331.58 234.34 L332.58 234.21 L333.57 234.08 L334.57 233.96 L335.56 233.83 L336.56 233.7 L337.55 233.57 L338.55 233.44 L339.54 233.32 L340.54 233.19 L341.53 233.06 L342.53 232.94 L343.52 232.81 L344.52 232.68 L345.51 232.55 L346.51 232.43 L347.5 232.3" stroke="#14b814" stroke-width="1.3"/></g>
<g clip-path="url(#cr)"><g clip-path="url(#cgl)"><path d="M12.06 285L89.8 215 M16.36 285L94.1 215 M20.66 285L98.4 215 M24.96 285L102.7 215 M29.26 285L107 215 M33.56 285L111.3 215 M37.86 285L115.6 215 M42.16 285L119.9 215 M46.46 285L124.2 215 M50.76 285L128.5 215 M55.06 285L132.8 215 M59.36 285L137.1 215 M63.66 285L141.4 215 M67.96 285L145.7 215 M72.26 285L150 215 M76.56 285L154.3 215 M80.86 285L158.6 215 M85.16 285L162.9 215 M89.46 285L167.2 215 M93.76 285L171.5 215 M98.1 285L175.84 215 M102.49 285L180.24 215 M106.94 285L184.68 215 M111.43 285L189.17 215 M115.97 285L193.72 215 M120.57 285L198.31 215 M125.21 285L202.96 215 M129.91 285L207.65 215 M134.66 285L212.4 215 M139.46 285L217.21 215 M144.32 285L222.07 215 M149.23 285L226.98 215 M154.2 285L231.95 215 M159.23 285L236.97 215 M164.31 285L242.05 215 M169.44 285L247.18 215 M174.64 285L252.38 215 M179.89 285L257.63 215 M185.2 285L262.94 215 M190.57 285L268.32 215 M196 285L273.75 215 M201.5 285L279.24 215 M207.05 285L284.79 215 M212.67 285L290.41 215 M218.35 285L296.09 215 M224.09 285L301.84 215 M229.9 285L307.64 215 M235.77 285L313.52 215 M241.71 285L319.46 215 M247.72 285L325.46 215 M253.79 285L331.54 215 M259.94 285L337.68 215 M266.15 285L343.89 215 M272.43 285L350.17 215 M278.78 285L356.52 215 M285.2 285L362.94 215 M291.7 285L369.44 215 M298.26 285L376.01 215 M304.91 285L382.65 215 M311.62 285L389.36 215 M318.41 285L396.16 215 M325.28 285L403.02 215 M332.22 285L409.97 215 M339.25 285L416.99 215 M346.35 285L424.09 215" stroke="#c01616" stroke-width="1.35"/></g><g clip-path="url(#cgr)"><path d="M12.06 285L89.8 215 M16.36 285L94.1 215 M20.66 285L98.4 215 M24.96 285L102.7 215 M29.26 285L107 215 M33.56 285L111.3 215 M37.86 285L115.6 215 M42.16 285L119.9 215 M46.46 285L124.2 215 M50.76 285L128.5 215 M55.06 285L132.8 215 M59.36 285L137.1 215 M63.66 285L141.4 215 M67.96 285L145.7 215 M72.26 285L150 215 M76.56 285L154.3 215 M80.86 285L158.6 215 M85.16 285L162.9 215 M89.46 285L167.2 215 M93.76 285L171.5 215 M98.1 285L175.84 215 M102.49 285L180.24 215 M106.94 285L184.68 215 M111.43 285L189.17 215 M115.97 285L193.72 215 M120.57 285L198.31 215 M125.21 285L202.96 215 M129.91 285L207.65 215 M134.66 285L212.4 215 M139.46 285L217.21 215 M144.32 285L222.07 215 M149.23 285L226.98 215 M154.2 285L231.95 215 M159.23 285L236.97 215 M164.31 285L242.05 215 M169.44 285L247.18 215 M174.64 285L252.38 215 M179.89 285L257.63 215 M185.2 285L262.94 215 M190.57 285L268.32 215 M196 285L273.75 215 M201.5 285L279.24 215 M207.05 285L284.79 215 M212.67 285L290.41 215 M218.35 285L296.09 215 M224.09 285L301.84 215 M229.9 285L307.64 215 M235.77 285L313.52 215 M241.71 285L319.46 215 M247.72 285L325.46 215 M253.79 285L331.54 215 M259.94 285L337.68 215 M266.15 285L343.89 215 M272.43 285L350.17 215 M278.78 285L356.52 215 M285.2 285L362.94 215 M291.7 285L369.44 215 M298.26 285L376.01 215 M304.91 285L382.65 215 M311.62 285L389.36 215 M318.41 285L396.16 215 M325.28 285L403.02 215 M332.22 285L409.97 215 M339.25 285L416.99 215 M346.35 285L424.09 215" stroke="#a82410" stroke-width="1.1"/></g></g>
<g clip-path="url(#cgl)"><path d="M89.8 270.5 L90.79 270.39 L91.79 270.27 L92.78 270.16 L93.78 270.06 L94.77 269.95 L95.77 269.83 L96.76 269.72 L97.76 269.6 L98.75 269.47 L99.75 269.34 L100.74 269.19 L101.74 269.04 L102.73 268.87 L103.73 268.7 L104.72 268.52 L105.72 268.34 L106.71 268.14 L107.71 267.95 L108.7 267.75 L109.7 267.54 L110.69 267.34 L111.69 267.13 L112.68 266.91 L113.68 266.7 L114.67 266.49 L115.67 266.28 L116.66 266.07 L117.66 265.87 L118.65 265.67 L119.65 265.47 L120.64 265.27 L121.64 265.08 L122.63 264.88 L123.63 264.68 L124.62 264.48 L125.62 264.29 L126.61 264.09 L127.61 263.89 L128.6 263.69 L129.6 263.49 L130.59 263.29 L131.59 263.09 L132.58 262.9 L133.58 262.7 L134.57 262.51 L135.57 262.32 L136.56 262.13 L137.56 261.95 L138.55 261.76 L139.55 261.58 L140.54 261.4 L141.54 261.23 L142.53 261.05 L143.53 260.87 L144.52 260.7 L145.52 260.53 L146.51 260.36 L147.51 260.19 L148.5 260.02 L149.5 259.85 L150.49 259.68 L151.49 259.52 L152.48 259.36 L153.48 259.2 L154.47 259.04 L155.47 258.88 L156.46 258.73 L157.46 258.58 L158.45 258.43 L159.45 258.28 L160.44 258.14 L161.44 257.99 L162.43 257.85 L163.43 257.71 L164.42 257.58 L165.42 257.44 L166.41 257.31 L167.41 257.18 L168.4 257.05 L169.4 256.92 L170.39 256.79 L171.39 256.66 L172.38 256.54 L173.38 256.41 L174.37 256.29 L175.37 256.17 L176.36 256.05 L177.36 255.92 L178.35 255.8 L179.35 255.68 L180.34 255.56 L181.34 255.44 L182.33 255.32 L183.33 255.21 L184.32 255.1 L185.32 254.98 L186.31 254.87 L187.31 254.76 L188.3 254.66 L189.3 254.55 L190.29 254.44 L191.29 254.33 L192.28 254.22 L193.28 254.11 L194.27 253.99 L195.27 253.88 L196.26 253.76 L197.26 253.64 L198.25 253.52 L199.25 253.4 L200.24 253.27 L201.24 253.14 L202.23 253 L203.23 252.86 L204.22 252.72 L205.22 252.58 L206.21 252.43 L207.21 252.29 L208.2 252.14 L209.2 251.98 L210.19 251.83 L211.19 251.68 L212.18 251.52 L213.18 251.37 L214.17 251.21 L215.17 251.06 L216.16 250.9 L217.16 250.74 L218.15 250.59 L219.15 250.43 L220.14 250.28 L221.14 250.12 L222.13 249.97 L223.13 249.81 L224.12 249.66 L225.12 249.5 L226.11 249.35 L227.11 249.19 L228.1 249.03 L229.1 248.87 L230.09 248.72 L231.09 248.56 L232.08 248.4 L233.08 248.24 L234.07 248.08 L235.07 247.91 L236.06 247.75 L237.06 247.59 L238.05 247.42 L239.05 247.26 L240.04 247.09 L241.04 246.93 L242.03 246.76 L243.03 246.59 L244.02 246.42 L245.02 246.25 L246.01 246.08 L247.01 245.9 L248 245.73 L249 245.56 L249.99 245.38 L250.99 245.21 L251.98 245.03 L252.98 244.86 L253.97 244.68 L254.97 244.5 L255.96 244.32 L256.96 244.15 L257.95 243.97 L258.95 243.79 L259.94 243.61 L260.94 243.43 L261.93 243.25 L262.93 243.07 L263.92 242.89 L264.92 242.71 L265.91 242.53 L266.91 242.35 L267.9 242.16 L268.9 241.98 L269.89 241.8 L270.89 241.61 L271.88 241.43 L272.88 241.24 L273.87 241.05 L274.87 240.87 L275.86 240.68 L276.86 240.49 L277.85 240.31 L278.85 240.12 L279.84 239.93 L280.84 239.74 L281.83 239.55 L282.83 239.36 L283.82 239.17 L284.82 238.98 L285.81 238.79 L286.81 238.6 L287.8 238.4 L288.8 238.21 L289.79 238.02 L290.79 237.82 L291.78 237.63 L292.78 237.43 L293.77 237.24 L294.77 237.04 L295.76 236.84 L296.76 236.65 L297.75 236.45 L298.75 236.25 L299.74 236.05 L300.74 235.85 L301.73 235.66 L302.73 235.46 L303.72 235.26 L304.72 235.07 L305.71 234.87 L306.71 234.68 L307.7 234.48 L308.7 234.29 L309.69 234.09 L310.69 233.89 L311.68 233.69 L312.68 233.49 L313.67 233.28 L314.67 233.07 L315.66 232.86 L316.66 232.65 L317.65 232.43 L318.65 232.21 L319.64 231.98 L320.64 231.75 L321.63 231.52 L322.63 231.27 L323.62 231.03 L324.62 230.77 L325.61 230.52 L326.61 230.26 L327.6 230 L328.6 229.73 L329.59 229.47 L330.59 229.2 L331.58 228.93 L332.58 228.66 L333.57 228.39 L334.57 228.12 L335.56 227.85 L336.56 227.58 L337.55 227.3 L338.55 227.03 L339.54 226.75 L340.54 226.47 L341.53 226.19 L342.53 225.9 L343.52 225.62 L344.52 225.34 L345.51 225.06 L346.51 224.78 L347.5 224.5" stroke="#c01616" stroke-width="1.1"/><path d="M89.8 280.4 L90.79 280.31 L91.79 280.23 L92.78 280.15 L93.78 280.08 L94.77 280 L95.77 279.92 L96.76 279.83 L97.76 279.74 L98.75 279.64 L99.75 279.53 L100.74 279.41 L101.74 279.28 L102.73 279.13 L103.73 278.97 L104.72 278.8 L105.72 278.63 L106.71 278.44 L107.71 278.25 L108.7 278.04 L109.7 277.84 L110.69 277.62 L111.69 277.4 L112.68 277.18 L113.68 276.95 L114.67 276.73 L115.67 276.5 L116.66 276.27 L117.66 276.04 L118.65 275.81 L119.65 275.58 L120.64 275.35 L121.64 275.12 L122.63 274.88 L123.63 274.63 L124.62 274.38 L125.62 274.13 L126.61 273.87 L127.61 273.61 L128.6 273.34 L129.6 273.07 L130.59 272.8 L131.59 272.53 L132.58 272.26 L133.58 271.99 L134.57 271.72 L135.57 271.46 L136.56 271.19 L137.56 270.93 L138.55 270.67 L139.55 270.41 L140.54 270.16 L141.54 269.91 L142.53 269.66 L143.53 269.4 L144.52 269.14 L145.52 268.89 L146.51 268.63 L147.51 268.38 L148.5 268.13 L149.5 267.87 L150.49 267.62 L151.49 267.37 L152.48 267.13 L153.48 266.89 L154.47 266.65 L155.47 266.41 L156.46 266.18 L157.46 265.95 L158.45 265.73 L159.45 265.52 L160.44 265.31 L161.44 265.1 L162.43 264.9 L163.43 264.7 L164.42 264.5 L165.42 264.31 L166.41 264.12 L167.41 263.94 L168.4 263.75 L169.4 263.57 L170.39 263.39 L171.39 263.21 L172.38 263.03 L173.38 262.86 L174.37 262.68 L175.37 262.51 L176.36 262.33 L177.36 262.16 L178.35 261.99 L179.35 261.81 L180.34 261.64 L181.34 261.47 L182.33 261.3 L183.33 261.14 L184.32 260.97 L185.32 260.81 L186.31 260.65 L187.31 260.49 L188.3 260.33 L189.3 260.17 L190.29 260.01 L191.29 259.86 L192.28 259.7 L193.28 259.54 L194.27 259.37 L195.27 259.21 L196.26 259.05 L197.26 258.88 L198.25 258.71 L199.25 258.53 L200.24 258.36 L201.24 258.18 L202.23 257.99 L203.23 257.81 L204.22 257.62 L205.22 257.43 L206.21 257.24 L207.21 257.04 L208.2 256.85 L209.2 256.65 L210.19 256.45 L211.19 256.25 L212.18 256.05 L213.18 255.86 L214.17 255.66 L215.17 255.46 L216.16 255.26 L217.16 255.06 L218.15 254.86 L219.15 254.67 L220.14 254.47 L221.14 254.28 L222.13 254.08 L223.13 253.89 L224.12 253.7 L225.12 253.5 L226.11 253.31 L227.11 253.11 L228.1 252.92 L229.1 252.73 L230.09 252.53 L231.09 252.34 L232.08 252.14 L233.08 251.95 L234.07 251.76 L235.07 251.56 L236.06 251.37 L237.06 251.17 L238.05 250.98 L239.05 250.79 L240.04 250.59 L241.04 250.4 L242.03 250.2 L243.03 250.01 L244.02 249.81 L245.02 249.62 L246.01 249.42 L247.01 249.23 L248 249.03 L249 248.83 L249.99 248.64 L250.99 248.44 L251.98 248.25 L252.98 248.05 L253.97 247.86 L254.97 247.67 L255.96 247.47 L256.96 247.28 L257.95 247.09 L258.95 246.9 L259.94 246.71 L260.94 246.52 L261.93 246.33 L262.93 246.15 L263.92 245.96 L264.92 245.77 L265.91 245.58 L266.91 245.4 L267.9 245.21 L268.9 245.02 L269.89 244.84 L270.89 244.65 L271.88 244.47 L272.88 244.29 L273.87 244.1 L274.87 243.92 L275.86 243.74 L276.86 243.56 L277.85 243.38 L278.85 243.21 L279.84 243.03 L280.84 242.85 L281.83 242.68 L282.83 242.5 L283.82 242.33 L284.82 242.15 L285.81 241.98 L286.81 241.81 L287.8 241.64 L288.8 241.47 L289.79 241.3 L290.79 241.13 L291.78 240.96 L292.78 240.79 L293.77 240.63 L294.77 240.46 L295.76 240.29 L296.76 240.13 L297.75 239.97 L298.75 239.8 L299.74 239.64 L300.74 239.48 L301.73 239.32 L302.73 239.17 L303.72 239.01 L304.72 238.86 L305.71 238.71 L306.71 238.56 L307.7 238.41 L308.7 238.26 L309.69 238.11 L310.69 237.96 L311.68 237.81 L312.68 237.66 L313.67 237.51 L314.67 237.35 L315.66 237.2 L316.66 237.04 L317.65 236.88 L318.65 236.72 L319.64 236.56 L320.64 236.39 L321.63 236.22 L322.63 236.05 L323.62 235.88 L324.62 235.7 L325.61 235.52 L326.61 235.34 L327.6 235.16 L328.6 234.98 L329.59 234.79 L330.59 234.61 L331.58 234.43 L332.58 234.24 L333.57 234.06 L334.57 233.88 L335.56 233.7 L336.56 233.52 L337.55 233.33 L338.55 233.15 L339.54 232.97 L340.54 232.78 L341.53 232.6 L342.53 232.42 L343.52 232.23 L344.52 232.05 L345.51 231.87 L346.51 231.68 L347.5 231.5" stroke="#c01616" stroke-width="1.1"/></g>
<g clip-path="url(#cgr)" opacity="0.75"><path d="M89.8 270.5 L90.79 270.39 L91.79 270.27 L92.78 270.16 L93.78 270.06 L94.77 269.95 L95.77 269.83 L96.76 269.72 L97.76 269.6 L98.75 269.47 L99.75 269.34 L100.74 269.19 L101.74 269.04 L102.73 268.87 L103.73 268.7 L104.72 268.52 L105.72 268.34 L106.71 268.14 L107.71 267.95 L108.7 267.75 L109.7 267.54 L110.69 267.34 L111.69 267.13 L112.68 266.91 L113.68 266.7 L114.67 266.49 L115.67 266.28 L116.66 266.07 L117.66 265.87 L118.65 265.67 L119.65 265.47 L120.64 265.27 L121.64 265.08 L122.63 264.88 L123.63 264.68 L124.62 264.48 L125.62 264.29 L126.61 264.09 L127.61 263.89 L128.6 263.69 L129.6 263.49 L130.59 263.29 L131.59 263.09 L132.58 262.9 L133.58 262.7 L134.57 262.51 L135.57 262.32 L136.56 262.13 L137.56 261.95 L138.55 261.76 L139.55 261.58 L140.54 261.4 L141.54 261.23 L142.53 261.05 L143.53 260.87 L144.52 260.7 L145.52 260.53 L146.51 260.36 L147.51 260.19 L148.5 260.02 L149.5 259.85 L150.49 259.68 L151.49 259.52 L152.48 259.36 L153.48 259.2 L154.47 259.04 L155.47 258.88 L156.46 258.73 L157.46 258.58 L158.45 258.43 L159.45 258.28 L160.44 258.14 L161.44 257.99 L162.43 257.85 L163.43 257.71 L164.42 257.58 L165.42 257.44 L166.41 257.31 L167.41 257.18 L168.4 257.05 L169.4 256.92 L170.39 256.79 L171.39 256.66 L172.38 256.54 L173.38 256.41 L174.37 256.29 L175.37 256.17 L176.36 256.05 L177.36 255.92 L178.35 255.8 L179.35 255.68 L180.34 255.56 L181.34 255.44 L182.33 255.32 L183.33 255.21 L184.32 255.1 L185.32 254.98 L186.31 254.87 L187.31 254.76 L188.3 254.66 L189.3 254.55 L190.29 254.44 L191.29 254.33 L192.28 254.22 L193.28 254.11 L194.27 253.99 L195.27 253.88 L196.26 253.76 L197.26 253.64 L198.25 253.52 L199.25 253.4 L200.24 253.27 L201.24 253.14 L202.23 253 L203.23 252.86 L204.22 252.72 L205.22 252.58 L206.21 252.43 L207.21 252.29 L208.2 252.14 L209.2 251.98 L210.19 251.83 L211.19 251.68 L212.18 251.52 L213.18 251.37 L214.17 251.21 L215.17 251.06 L216.16 250.9 L217.16 250.74 L218.15 250.59 L219.15 250.43 L220.14 250.28 L221.14 250.12 L222.13 249.97 L223.13 249.81 L224.12 249.66 L225.12 249.5 L226.11 249.35 L227.11 249.19 L228.1 249.03 L229.1 248.87 L230.09 248.72 L231.09 248.56 L232.08 248.4 L233.08 248.24 L234.07 248.08 L235.07 247.91 L236.06 247.75 L237.06 247.59 L238.05 247.42 L239.05 247.26 L240.04 247.09 L241.04 246.93 L242.03 246.76 L243.03 246.59 L244.02 246.42 L245.02 246.25 L246.01 246.08 L247.01 245.9 L248 245.73 L249 245.56 L249.99 245.38 L250.99 245.21 L251.98 245.03 L252.98 244.86 L253.97 244.68 L254.97 244.5 L255.96 244.32 L256.96 244.15 L257.95 243.97 L258.95 243.79 L259.94 243.61 L260.94 243.43 L261.93 243.25 L262.93 243.07 L263.92 242.89 L264.92 242.71 L265.91 242.53 L266.91 242.35 L267.9 242.16 L268.9 241.98 L269.89 241.8 L270.89 241.61 L271.88 241.43 L272.88 241.24 L273.87 241.05 L274.87 240.87 L275.86 240.68 L276.86 240.49 L277.85 240.31 L278.85 240.12 L279.84 239.93 L280.84 239.74 L281.83 239.55 L282.83 239.36 L283.82 239.17 L284.82 238.98 L285.81 238.79 L286.81 238.6 L287.8 238.4 L288.8 238.21 L289.79 238.02 L290.79 237.82 L291.78 237.63 L292.78 237.43 L293.77 237.24 L294.77 237.04 L295.76 236.84 L296.76 236.65 L297.75 236.45 L298.75 236.25 L299.74 236.05 L300.74 235.85 L301.73 235.66 L302.73 235.46 L303.72 235.26 L304.72 235.07 L305.71 234.87 L306.71 234.68 L307.7 234.48 L308.7 234.29 L309.69 234.09 L310.69 233.89 L311.68 233.69 L312.68 233.49 L313.67 233.28 L314.67 233.07 L315.66 232.86 L316.66 232.65 L317.65 232.43 L318.65 232.21 L319.64 231.98 L320.64 231.75 L321.63 231.52 L322.63 231.27 L323.62 231.03 L324.62 230.77 L325.61 230.52 L326.61 230.26 L327.6 230 L328.6 229.73 L329.59 229.47 L330.59 229.2 L331.58 228.93 L332.58 228.66 L333.57 228.39 L334.57 228.12 L335.56 227.85 L336.56 227.58 L337.55 227.3 L338.55 227.03 L339.54 226.75 L340.54 226.47 L341.53 226.19 L342.53 225.9 L343.52 225.62 L344.52 225.34 L345.51 225.06 L346.51 224.78 L347.5 224.5" stroke="#a82410" stroke-width="0.6"/><path d="M89.8 280.4 L90.79 280.31 L91.79 280.23 L92.78 280.15 L93.78 280.08 L94.77 280 L95.77 279.92 L96.76 279.83 L97.76 279.74 L98.75 279.64 L99.75 279.53 L100.74 279.41 L101.74 279.28 L102.73 279.13 L103.73 278.97 L104.72 278.8 L105.72 278.63 L106.71 278.44 L107.71 278.25 L108.7 278.04 L109.7 277.84 L110.69 277.62 L111.69 277.4 L112.68 277.18 L113.68 276.95 L114.67 276.73 L115.67 276.5 L116.66 276.27 L117.66 276.04 L118.65 275.81 L119.65 275.58 L120.64 275.35 L121.64 275.12 L122.63 274.88 L123.63 274.63 L124.62 274.38 L125.62 274.13 L126.61 273.87 L127.61 273.61 L128.6 273.34 L129.6 273.07 L130.59 272.8 L131.59 272.53 L132.58 272.26 L133.58 271.99 L134.57 271.72 L135.57 271.46 L136.56 271.19 L137.56 270.93 L138.55 270.67 L139.55 270.41 L140.54 270.16 L141.54 269.91 L142.53 269.66 L143.53 269.4 L144.52 269.14 L145.52 268.89 L146.51 268.63 L147.51 268.38 L148.5 268.13 L149.5 267.87 L150.49 267.62 L151.49 267.37 L152.48 267.13 L153.48 266.89 L154.47 266.65 L155.47 266.41 L156.46 266.18 L157.46 265.95 L158.45 265.73 L159.45 265.52 L160.44 265.31 L161.44 265.1 L162.43 264.9 L163.43 264.7 L164.42 264.5 L165.42 264.31 L166.41 264.12 L167.41 263.94 L168.4 263.75 L169.4 263.57 L170.39 263.39 L171.39 263.21 L172.38 263.03 L173.38 262.86 L174.37 262.68 L175.37 262.51 L176.36 262.33 L177.36 262.16 L178.35 261.99 L179.35 261.81 L180.34 261.64 L181.34 261.47 L182.33 261.3 L183.33 261.14 L184.32 260.97 L185.32 260.81 L186.31 260.65 L187.31 260.49 L188.3 260.33 L189.3 260.17 L190.29 260.01 L191.29 259.86 L192.28 259.7 L193.28 259.54 L194.27 259.37 L195.27 259.21 L196.26 259.05 L197.26 258.88 L198.25 258.71 L199.25 258.53 L200.24 258.36 L201.24 258.18 L202.23 257.99 L203.23 257.81 L204.22 257.62 L205.22 257.43 L206.21 257.24 L207.21 257.04 L208.2 256.85 L209.2 256.65 L210.19 256.45 L211.19 256.25 L212.18 256.05 L213.18 255.86 L214.17 255.66 L215.17 255.46 L216.16 255.26 L217.16 255.06 L218.15 254.86 L219.15 254.67 L220.14 254.47 L221.14 254.28 L222.13 254.08 L223.13 253.89 L224.12 253.7 L225.12 253.5 L226.11 253.31 L227.11 253.11 L228.1 252.92 L229.1 252.73 L230.09 252.53 L231.09 252.34 L232.08 252.14 L233.08 251.95 L234.07 251.76 L235.07 251.56 L236.06 251.37 L237.06 251.17 L238.05 250.98 L239.05 250.79 L240.04 250.59 L241.04 250.4 L242.03 250.2 L243.03 250.01 L244.02 249.81 L245.02 249.62 L246.01 249.42 L247.01 249.23 L248 249.03 L249 248.83 L249.99 248.64 L250.99 248.44 L251.98 248.25 L252.98 248.05 L253.97 247.86 L254.97 247.67 L255.96 247.47 L256.96 247.28 L257.95 247.09 L258.95 246.9 L259.94 246.71 L260.94 246.52 L261.93 246.33 L262.93 246.15 L263.92 245.96 L264.92 245.77 L265.91 245.58 L266.91 245.4 L267.9 245.21 L268.9 245.02 L269.89 244.84 L270.89 244.65 L271.88 244.47 L272.88 244.29 L273.87 244.1 L274.87 243.92 L275.86 243.74 L276.86 243.56 L277.85 243.38 L278.85 243.21 L279.84 243.03 L280.84 242.85 L281.83 242.68 L282.83 242.5 L283.82 242.33 L284.82 242.15 L285.81 241.98 L286.81 241.81 L287.8 241.64 L288.8 241.47 L289.79 241.3 L290.79 241.13 L291.78 240.96 L292.78 240.79 L293.77 240.63 L294.77 240.46 L295.76 240.29 L296.76 240.13 L297.75 239.97 L298.75 239.8 L299.74 239.64 L300.74 239.48 L301.73 239.32 L302.73 239.17 L303.72 239.01 L304.72 238.86 L305.71 238.71 L306.71 238.56 L307.7 238.41 L308.7 238.26 L309.69 238.11 L310.69 237.96 L311.68 237.81 L312.68 237.66 L313.67 237.51 L314.67 237.35 L315.66 237.2 L316.66 237.04 L317.65 236.88 L318.65 236.72 L319.64 236.56 L320.64 236.39 L321.63 236.22 L322.63 236.05 L323.62 235.88 L324.62 235.7 L325.61 235.52 L326.61 235.34 L327.6 235.16 L328.6 234.98 L329.59 234.79 L330.59 234.61 L331.58 234.43 L332.58 234.24 L333.57 234.06 L334.57 233.88 L335.56 233.7 L336.56 233.52 L337.55 233.33 L338.55 233.15 L339.54 232.97 L340.54 232.78 L341.53 232.6 L342.53 232.42 L343.52 232.23 L344.52 232.05 L345.51 231.87 L346.51 231.68 L347.5 231.5" stroke="#a82410" stroke-width="0.7"/></g>
<g clip-path="url(#cgl)"><path d="M89.8 275.45 L90.79 275.35 L91.79 275.25 L92.78 275.16 L93.78 275.07 L94.77 274.97 L95.77 274.88 L96.76 274.78 L97.76 274.67 L98.75 274.55 L99.75 274.43 L100.74 274.3 L101.74 274.15 L102.73 274 L103.73 273.84 L104.72 273.66 L105.72 273.48 L106.71 273.29 L107.71 273.1 L108.7 272.9 L109.7 272.69 L110.69 272.48 L111.69 272.27 L112.68 272.05 L113.68 271.83 L114.67 271.61 L115.67 271.39 L116.66 271.17 L117.66 270.95 L118.65 270.74 L119.65 270.52 L120.64 270.31 L121.64 270.1 L122.63 269.88 L123.63 269.66 L124.62 269.43 L125.62 269.2 L126.61 268.98 L127.61 268.74 L128.6 268.51 L129.6 268.28 L130.59 268.05 L131.59 267.81 L132.58 267.58 L133.58 267.35 L134.57 267.12 L135.57 266.89 L136.56 266.66 L137.56 266.44 L138.55 266.22 L139.55 266 L140.54 265.78 L141.54 265.57 L142.53 265.35 L143.53 265.14 L144.52 264.92 L145.52 264.71 L146.51 264.49 L147.51 264.28 L148.5 264.07 L149.5 263.86 L150.49 263.65 L151.49 263.45 L152.48 263.24 L153.48 263.04 L154.47 262.84 L155.47 262.65 L156.46 262.46 L157.46 262.27 L158.45 262.08 L159.45 261.9 L160.44 261.72 L161.44 261.55 L162.43 261.38 L163.43 261.21 L164.42 261.04 L165.42 260.88 L166.41 260.72 L167.41 260.56 L168.4 260.4 L169.4 260.24 L170.39 260.09 L171.39 259.94 L172.38 259.79 L173.38 259.64 L174.37 259.49 L175.37 259.34 L176.36 259.19 L177.36 259.04 L178.35 258.89 L179.35 258.75 L180.34 258.6 L181.34 258.45 L182.33 258.31 L183.33 258.17 L184.32 258.03 L185.32 257.9 L186.31 257.76 L187.31 257.63 L188.3 257.49 L189.3 257.36 L190.29 257.23 L191.29 257.09 L192.28 256.96 L193.28 256.82 L194.27 256.68 L195.27 256.55 L196.26 256.4 L197.26 256.26 L198.25 256.11 L199.25 255.97 L200.24 255.81 L201.24 255.66 L202.23 255.5 L203.23 255.34 L204.22 255.17 L205.22 255 L206.21 254.83 L207.21 254.66 L208.2 254.49 L209.2 254.32 L210.19 254.14 L211.19 253.97 L212.18 253.79 L213.18 253.61 L214.17 253.43 L215.17 253.26 L216.16 253.08 L217.16 252.9 L218.15 252.73 L219.15 252.55 L220.14 252.38 L221.14 252.2 L222.13 252.03 L223.13 251.85 L224.12 251.68 L225.12 251.5 L226.11 251.33 L227.11 251.15 L228.1 250.98 L229.1 250.8 L230.09 250.62 L231.09 250.45 L232.08 250.27 L233.08 250.09 L234.07 249.92 L235.07 249.74 L236.06 249.56 L237.06 249.38 L238.05 249.2 L239.05 249.02 L240.04 248.84 L241.04 248.66 L242.03 248.48 L243.03 248.3 L244.02 248.12 L245.02 247.93 L246.01 247.75 L247.01 247.57 L248 247.38 L249 247.2 L249.99 247.01 L250.99 246.83 L251.98 246.64 L252.98 246.46 L253.97 246.27 L254.97 246.08 L255.96 245.9 L256.96 245.71 L257.95 245.53 L258.95 245.35 L259.94 245.16 L260.94 244.98 L261.93 244.79 L262.93 244.61 L263.92 244.42 L264.92 244.24 L265.91 244.05 L266.91 243.87 L267.9 243.69 L268.9 243.5 L269.89 243.32 L270.89 243.13 L271.88 242.95 L272.88 242.76 L273.87 242.58 L274.87 242.4 L275.86 242.21 L276.86 242.03 L277.85 241.85 L278.85 241.66 L279.84 241.48 L280.84 241.3 L281.83 241.11 L282.83 240.93 L283.82 240.75 L284.82 240.57 L285.81 240.38 L286.81 240.2 L287.8 240.02 L288.8 239.84 L289.79 239.66 L290.79 239.48 L291.78 239.29 L292.78 239.11 L293.77 238.93 L294.77 238.75 L295.76 238.57 L296.76 238.39 L297.75 238.21 L298.75 238.03 L299.74 237.85 L300.74 237.67 L301.73 237.49 L302.73 237.31 L303.72 237.14 L304.72 236.96 L305.71 236.79 L306.71 236.62 L307.7 236.44 L308.7 236.27 L309.69 236.1 L310.69 235.92 L311.68 235.75 L312.68 235.57 L313.67 235.39 L314.67 235.21 L315.66 235.03 L316.66 234.85 L317.65 234.66 L318.65 234.47 L319.64 234.27 L320.64 234.07 L321.63 233.87 L322.63 233.66 L323.62 233.45 L324.62 233.24 L325.61 233.02 L326.61 232.8 L327.6 232.58 L328.6 232.35 L329.59 232.13 L330.59 231.9 L331.58 231.68 L332.58 231.45 L333.57 231.22 L334.57 231 L335.56 230.77 L336.56 230.55 L337.55 230.32 L338.55 230.09 L339.54 229.86 L340.54 229.63 L341.53 229.39 L342.53 229.16 L343.52 228.93 L344.52 228.7 L345.51 228.46 L346.51 228.23 L347.5 228" stroke="#c01616" stroke-width="1.0"/></g>
<g clip-path="url(#cgr)"><path d="M89.8 275.45 L90.79 275.35 L91.79 275.25 L92.78 275.16 L93.78 275.07 L94.77 274.97 L95.77 274.88 L96.76 274.78 L97.76 274.67 L98.75 274.55 L99.75 274.43 L100.74 274.3 L101.74 274.15 L102.73 274 L103.73 273.84 L104.72 273.66 L105.72 273.48 L106.71 273.29 L107.71 273.1 L108.7 272.9 L109.7 272.69 L110.69 272.48 L111.69 272.27 L112.68 272.05 L113.68 271.83 L114.67 271.61 L115.67 271.39 L116.66 271.17 L117.66 270.95 L118.65 270.74 L119.65 270.52 L120.64 270.31 L121.64 270.1 L122.63 269.88 L123.63 269.66 L124.62 269.43 L125.62 269.2 L126.61 268.98 L127.61 268.74 L128.6 268.51 L129.6 268.28 L130.59 268.05 L131.59 267.81 L132.58 267.58 L133.58 267.35 L134.57 267.12 L135.57 266.89 L136.56 266.66 L137.56 266.44 L138.55 266.22 L139.55 266 L140.54 265.78 L141.54 265.57 L142.53 265.35 L143.53 265.14 L144.52 264.92 L145.52 264.71 L146.51 264.49 L147.51 264.28 L148.5 264.07 L149.5 263.86 L150.49 263.65 L151.49 263.45 L152.48 263.24 L153.48 263.04 L154.47 262.84 L155.47 262.65 L156.46 262.46 L157.46 262.27 L158.45 262.08 L159.45 261.9 L160.44 261.72 L161.44 261.55 L162.43 261.38 L163.43 261.21 L164.42 261.04 L165.42 260.88 L166.41 260.72 L167.41 260.56 L168.4 260.4 L169.4 260.24 L170.39 260.09 L171.39 259.94 L172.38 259.79 L173.38 259.64 L174.37 259.49 L175.37 259.34 L176.36 259.19 L177.36 259.04 L178.35 258.89 L179.35 258.75 L180.34 258.6 L181.34 258.45 L182.33 258.31 L183.33 258.17 L184.32 258.03 L185.32 257.9 L186.31 257.76 L187.31 257.63 L188.3 257.49 L189.3 257.36 L190.29 257.23 L191.29 257.09 L192.28 256.96 L193.28 256.82 L194.27 256.68 L195.27 256.55 L196.26 256.4 L197.26 256.26 L198.25 256.11 L199.25 255.97 L200.24 255.81 L201.24 255.66 L202.23 255.5 L203.23 255.34 L204.22 255.17 L205.22 255 L206.21 254.83 L207.21 254.66 L208.2 254.49 L209.2 254.32 L210.19 254.14 L211.19 253.97 L212.18 253.79 L213.18 253.61 L214.17 253.43 L215.17 253.26 L216.16 253.08 L217.16 252.9 L218.15 252.73 L219.15 252.55 L220.14 252.38 L221.14 252.2 L222.13 252.03 L223.13 251.85 L224.12 251.68 L225.12 251.5 L226.11 251.33 L227.11 251.15 L228.1 250.98 L229.1 250.8 L230.09 250.62 L231.09 250.45 L232.08 250.27 L233.08 250.09 L234.07 249.92 L235.07 249.74 L236.06 249.56 L237.06 249.38 L238.05 249.2 L239.05 249.02 L240.04 248.84 L241.04 248.66 L242.03 248.48 L243.03 248.3 L244.02 248.12 L245.02 247.93 L246.01 247.75 L247.01 247.57 L248 247.38 L249 247.2 L249.99 247.01 L250.99 246.83 L251.98 246.64 L252.98 246.46 L253.97 246.27 L254.97 246.08 L255.96 245.9 L256.96 245.71 L257.95 245.53 L258.95 245.35 L259.94 245.16 L260.94 244.98 L261.93 244.79 L262.93 244.61 L263.92 244.42 L264.92 244.24 L265.91 244.05 L266.91 243.87 L267.9 243.69 L268.9 243.5 L269.89 243.32 L270.89 243.13 L271.88 242.95 L272.88 242.76 L273.87 242.58 L274.87 242.4 L275.86 242.21 L276.86 242.03 L277.85 241.85 L278.85 241.66 L279.84 241.48 L280.84 241.3 L281.83 241.11 L282.83 240.93 L283.82 240.75 L284.82 240.57 L285.81 240.38 L286.81 240.2 L287.8 240.02 L288.8 239.84 L289.79 239.66 L290.79 239.48 L291.78 239.29 L292.78 239.11 L293.77 238.93 L294.77 238.75 L295.76 238.57 L296.76 238.39 L297.75 238.21 L298.75 238.03 L299.74 237.85 L300.74 237.67 L301.73 237.49 L302.73 237.31 L303.72 237.14 L304.72 236.96 L305.71 236.79 L306.71 236.62 L307.7 236.44 L308.7 236.27 L309.69 236.1 L310.69 235.92 L311.68 235.75 L312.68 235.57 L313.67 235.39 L314.67 235.21 L315.66 235.03 L316.66 234.85 L317.65 234.66 L318.65 234.47 L319.64 234.27 L320.64 234.07 L321.63 233.87 L322.63 233.66 L323.62 233.45 L324.62 233.24 L325.61 233.02 L326.61 232.8 L327.6 232.58 L328.6 232.35 L329.59 232.13 L330.59 231.9 L331.58 231.68 L332.58 231.45 L333.57 231.22 L334.57 231 L335.56 230.77 L336.56 230.55 L337.55 230.32 L338.55 230.09 L339.54 229.86 L340.54 229.63 L341.53 229.39 L342.53 229.16 L343.52 228.93 L344.52 228.7 L345.51 228.46 L346.51 228.23 L347.5 228" stroke="#a82410" stroke-width="1.4"/></g>
</g>
<g fill="none">
<g clip-path="url(#lg1)"><path d="M89.2 212.8L123.3 169.15 M89.2 217.79L123.3 174.15 M89.2 222.78L123.3 179.14 M89.2 227.78L123.3 184.13 M89.2 232.77L123.3 189.12 M89.2 237.76L123.3 194.11 M89.2 242.75L123.3 199.1 M89.2 247.74L123.3 204.1 M89.2 252.73L123.3 209.09 M89.2 257.73L123.3 214.08 M89.2 262.72L123.3 219.07" stroke="#c01616" stroke-width="1.05"/></g>
<path d="M89.2 214.4H123.3" stroke="#c01616" stroke-width="1.5"/>
<g clip-path="url(#lg2)"><path d="M89.2 225.8L123.3 211.33 M89.2 228.3L123.3 213.83 M89.2 230.8L123.3 216.33 M89.2 233.3L123.3 218.83 M89.2 235.8L123.3 221.33 M89.2 238.3L123.3 223.83 M89.2 240.8L123.3 226.33 M89.2 243.3L123.3 228.83 M89.2 245.8L123.3 231.33 M89.2 248.3L123.3 233.83" stroke="#14b814" stroke-width="1.2"/></g>
<path d="M89.2 229.7H123.3" stroke="#14b814" stroke-width="1.5"/>
</g>
<g clip-path="url(#c1)" fill="none">
<path d="M90.3 92.6 L91.29 94.46 L92.28 96.34 L93.27 98.22 L94.26 100.09 L95.26 101.92 L96.25 103.71 L97.24 105.44 L98.23 107.15 L99.22 108.82 L100.21 110.46 L101.2 112.08 L102.19 113.67 L103.18 115.29 L104.18 116.91 L105.17 118.44 L106.16 119.84 L107.15 121.05 L108.14 122.15 L109.13 123.09 L110.12 123.86 L111.11 124.49 L112.1 125.04 L113.1 125.55 L114.09 126.02 L115.08 126.48 L116.07 126.91 L117.06 127.33 L118.05 127.74 L119.04 128.14 L120.03 128.54 L121.02 128.94 L122.02 129.35 L123.01 129.77 L124 130.2 L124.99 130.62 L125.98 131.04 L126.97 131.46 L127.96 131.87 L128.95 132.29 L129.94 132.7 L130.94 133.1 L131.93 133.51 L132.92 133.91 L133.91 134.3 L134.9 134.7 L135.89 135.1 L136.88 135.49 L137.87 135.89 L138.86 136.28 L139.86 136.67 L140.85 137.05 L141.84 137.42 L142.83 137.79 L143.82 138.14 L144.81 138.47 L145.8 138.79 L146.79 139.1 L147.78 139.4 L148.78 139.68 L149.77 139.96 L150.76 140.24 L151.75 140.51 L152.74 140.78 L153.73 141.06 L154.72 141.33 L155.71 141.62 L156.71 141.91 L157.7 142.19 L158.69 142.48 L159.68 142.77 L160.67 143.05 L161.66 143.34 L162.65 143.61 L163.64 143.88 L164.63 144.15 L165.63 144.41 L166.62 144.65 L167.61 144.9 L168.6 145.14 L169.59 145.38 L170.58 145.62 L171.57 145.85 L172.56 146.09 L173.55 146.31 L174.55 146.54 L175.54 146.76 L176.53 146.98 L177.52 147.2 L178.51 147.41 L179.5 147.62 L180.49 147.83 L181.48 148.03 L182.47 148.23 L183.47 148.42 L184.46 148.62 L185.45 148.8 L186.44 148.99 L187.43 149.17 L188.42 149.35 L189.41 149.53 L190.4 149.7 L191.39 149.87 L192.39 150.04 L193.38 150.21 L194.37 150.37 L195.36 150.53 L196.35 150.69 L197.34 150.85 L198.33 151.01 L199.32 151.16 L200.31 151.32 L201.31 151.47 L202.3 151.62 L203.29 151.77 L204.28 151.92 L205.27 152.07 L206.26 152.22 L207.25 152.37 L208.24 152.51 L209.23 152.66 L210.23 152.81 L211.22 152.95 L212.21 153.09 L213.2 153.24 L214.19 153.38 L215.18 153.52 L216.17 153.66 L217.16 153.8 L218.15 153.94 L219.15 154.07 L220.14 154.21 L221.13 154.35 L222.12 154.48 L223.11 154.61 L224.1 154.74 L225.09 154.87 L226.08 155 L227.07 155.13 L228.07 155.25 L229.06 155.37 L230.05 155.5 L231.04 155.62 L232.03 155.74 L233.02 155.85 L234.01 155.97 L235 156.08 L235.99 156.19 L236.99 156.3 L237.98 156.41 L238.97 156.52 L239.96 156.63 L240.95 156.73 L241.94 156.84 L242.93 156.94 L243.92 157.04 L244.91 157.14 L245.91 157.23 L246.9 157.32 L247.89 157.42 L248.88 157.5 L249.87 157.59 L250.86 157.67 L251.85 157.75 L252.84 157.83 L253.83 157.91 L254.83 157.98 L255.82 158.06 L256.81 158.13 L257.8 158.2 L258.79 158.27 L259.78 158.34 L260.77 158.41 L261.76 158.47 L262.75 158.54 L263.75 158.61 L264.74 158.67 L265.73 158.74 L266.72 158.81 L267.71 158.87 L268.7 158.94 L269.69 159.01 L270.68 159.07 L271.67 159.14 L272.67 159.21 L273.66 159.28 L274.65 159.35 L275.64 159.42 L276.63 159.49 L277.62 159.56 L278.61 159.64 L279.6 159.71 L280.59 159.78 L281.59 159.85 L282.58 159.92 L283.57 159.99 L284.56 160.06 L285.55 160.13 L286.54 160.2 L287.53 160.27 L288.52 160.34 L289.52 160.41 L290.51 160.48 L291.5 160.55 L292.49 160.62 L293.48 160.69 L294.47 160.76 L295.46 160.83 L296.45 160.89 L297.44 160.96 L298.44 161.03 L299.43 161.1 L300.42 161.16 L301.41 161.23 L302.4 161.29 L303.39 161.36 L304.38 161.42 L305.37 161.49 L306.36 161.55 L307.36 161.61 L308.35 161.68 L309.34 161.74 L310.33 161.8 L311.32 161.87 L312.31 161.93 L313.3 161.99 L314.29 162.05 L315.28 162.12 L316.28 162.18 L317.27 162.24 L318.26 162.3 L319.25 162.36 L320.24 162.42 L321.23 162.48 L322.22 162.54 L323.21 162.6 L324.2 162.65 L325.2 162.71 L326.19 162.77 L327.18 162.83 L328.17 162.88 L329.16 162.94 L330.15 162.99 L331.14 163.05 L332.13 163.1 L333.12 163.15 L334.12 163.21 L335.11 163.26 L336.1 163.32 L337.09 163.37 L338.08 163.42 L339.07 163.47 L340.06 163.53 L341.05 163.58 L342.04 163.63 L343.04 163.69 L344.03 163.74 L345.02 163.79 L346.01 163.85 L347 163.9" stroke="#000" stroke-width="1.6"/>
<path d="M90.3 76.3 L91.29 78.67 L92.28 81.05 L93.27 83.38 L94.26 85.57 L95.26 87.66 L96.25 89.68 L97.24 91.63 L98.23 93.5 L99.22 95.29 L100.21 97 L101.2 98.65 L102.19 100.27 L103.18 101.89 L104.18 103.53 L105.17 105.28 L106.16 107.1 L107.15 108.92 L108.14 110.68 L109.13 112.3 L110.12 113.74 L111.11 114.91 L112.1 115.85 L113.1 116.7 L114.09 117.47 L115.08 118.18 L116.07 118.83 L117.06 119.45 L118.05 120.03 L119.04 120.59 L120.03 121.14 L121.02 121.69 L122.02 122.26 L123.01 122.84 L124 123.42 L124.99 123.98 L125.98 124.54 L126.97 125.08 L127.96 125.61 L128.95 126.14 L129.94 126.66 L130.94 127.18 L131.93 127.69 L132.92 128.2 L133.91 128.7 L134.9 129.21 L135.89 129.72 L136.88 130.23 L137.87 130.73 L138.86 131.23 L139.86 131.72 L140.85 132.21 L141.84 132.68 L142.83 133.14 L143.82 133.6 L144.81 134.03 L145.8 134.46 L146.79 134.86 L147.78 135.26 L148.78 135.65 L149.77 136.03 L150.76 136.4 L151.75 136.77 L152.74 137.13 L153.73 137.49 L154.72 137.84 L155.71 138.2 L156.71 138.54 L157.7 138.89 L158.69 139.22 L159.68 139.56 L160.67 139.89 L161.66 140.22 L162.65 140.54 L163.64 140.86 L164.63 141.17 L165.63 141.48 L166.62 141.79 L167.61 142.1 L168.6 142.4 L169.59 142.71 L170.58 143.01 L171.57 143.31 L172.56 143.61 L173.55 143.91 L174.55 144.2 L175.54 144.49 L176.53 144.78 L177.52 145.06 L178.51 145.34 L179.5 145.61 L180.49 145.88 L181.48 146.14 L182.47 146.4 L183.47 146.65 L184.46 146.89 L185.45 147.13 L186.44 147.36 L187.43 147.59 L188.42 147.82 L189.41 148.04 L190.4 148.26 L191.39 148.48 L192.39 148.69 L193.38 148.9 L194.37 149.11 L195.36 149.31 L196.35 149.51 L197.34 149.71 L198.33 149.91 L199.32 150.1 L200.31 150.29 L201.31 150.48 L202.3 150.67 L203.29 150.86 L204.28 151.04 L205.27 151.22 L206.26 151.4 L207.25 151.58 L208.24 151.76 L209.23 151.94 L210.23 152.11 L211.22 152.29 L212.21 152.46 L213.2 152.63 L214.19 152.8 L215.18 152.97 L216.17 153.13 L217.16 153.3 L218.15 153.46 L219.15 153.63 L220.14 153.79 L221.13 153.95 L222.12 154.1 L223.11 154.26 L224.1 154.41 L225.09 154.57 L226.08 154.72 L227.07 154.87 L228.07 155.01 L229.06 155.16 L230.05 155.3 L231.04 155.45 L232.03 155.59 L233.02 155.72 L234.01 155.86 L235 156 L235.99 156.13 L236.99 156.26 L237.98 156.39 L238.97 156.52 L239.96 156.64 L240.95 156.77 L241.94 156.89 L242.93 157.01 L243.92 157.13 L244.91 157.24 L245.91 157.36 L246.9 157.47 L247.89 157.58 L248.88 157.68 L249.87 157.79 L250.86 157.89 L251.85 157.99 L252.84 158.09 L253.83 158.18 L254.83 158.28 L255.82 158.37 L256.81 158.46 L257.8 158.56 L258.79 158.65 L259.78 158.73 L260.77 158.82 L261.76 158.91 L262.75 158.99 L263.75 159.08 L264.74 159.16 L265.73 159.25 L266.72 159.33 L267.71 159.41 L268.7 159.49 L269.69 159.57 L270.68 159.65 L271.67 159.73 L272.67 159.81 L273.66 159.89 L274.65 159.97 L275.64 160.05 L276.63 160.13 L277.62 160.21 L278.61 160.28 L279.6 160.36 L280.59 160.44 L281.59 160.51 L282.58 160.59 L283.57 160.66 L284.56 160.74 L285.55 160.81 L286.54 160.88 L287.53 160.96 L288.52 161.03 L289.52 161.1 L290.51 161.17 L291.5 161.24 L292.49 161.31 L293.48 161.38 L294.47 161.45 L295.46 161.52 L296.45 161.59 L297.44 161.66 L298.44 161.73 L299.43 161.79 L300.42 161.86 L301.41 161.93 L302.4 161.99 L303.39 162.06 L304.38 162.13 L305.37 162.19 L306.36 162.26 L307.36 162.32 L308.35 162.38 L309.34 162.45 L310.33 162.51 L311.32 162.57 L312.31 162.63 L313.3 162.7 L314.29 162.76 L315.28 162.82 L316.28 162.88 L317.27 162.94 L318.26 163 L319.25 163.06 L320.24 163.12 L321.23 163.18 L322.22 163.24 L323.21 163.3 L324.2 163.35 L325.2 163.41 L326.19 163.47 L327.18 163.53 L328.17 163.58 L329.16 163.64 L330.15 163.69 L331.14 163.75 L332.13 163.8 L333.12 163.85 L334.12 163.91 L335.11 163.96 L336.1 164.02 L337.09 164.07 L338.08 164.12 L339.07 164.17 L340.06 164.23 L341.05 164.28 L342.04 164.33 L343.04 164.39 L344.03 164.44 L345.02 164.49 L346.01 164.55 L347 164.6" stroke="#a80808" stroke-width="1.5" stroke-dasharray="2 3.2 5.3 2.8"/>
<path d="M90.3 54.7 L91.29 57.37 L92.28 60.05 L93.27 62.73 L94.26 65.4 L95.26 68.04 L96.25 70.64 L97.24 73.23 L98.23 75.79 L99.22 78.33 L100.21 80.83 L101.2 83.3 L102.19 85.72 L103.18 88.19 L104.18 90.67 L105.17 93.09 L106.16 95.35 L107.15 97.38 L108.14 99.13 L109.13 100.74 L110.12 102.25 L111.11 103.66 L112.1 104.98 L113.1 106.22 L114.09 107.38 L115.08 108.48 L116.07 109.5 L117.06 110.46 L118.05 111.35 L119.04 112.2 L120.03 113.02 L121.02 113.83 L122.02 114.63 L123.01 115.43 L124 116.23 L124.99 117.02 L125.98 117.8 L126.97 118.57 L127.96 119.32 L128.95 120.07 L129.94 120.8 L130.94 121.52 L131.93 122.23 L132.92 122.93 L133.91 123.61 L134.9 124.27 L135.89 124.93 L136.88 125.58 L137.87 126.22 L138.86 126.84 L139.86 127.46 L140.85 128.07 L141.84 128.66 L142.83 129.25 L143.82 129.82 L144.81 130.38 L145.8 130.93 L146.79 131.48 L147.78 132.01 L148.78 132.53 L149.77 133.04 L150.76 133.54 L151.75 134.03 L152.74 134.52 L153.73 134.99 L154.72 135.46 L155.71 135.92 L156.71 136.37 L157.7 136.82 L158.69 137.26 L159.68 137.69 L160.67 138.12 L161.66 138.54 L162.65 138.96 L163.64 139.36 L164.63 139.76 L165.63 140.15 L166.62 140.54 L167.61 140.92 L168.6 141.3 L169.59 141.68 L170.58 142.05 L171.57 142.42 L172.56 142.79 L173.55 143.15 L174.55 143.51 L175.54 143.86 L176.53 144.21 L177.52 144.55 L178.51 144.89 L179.5 145.22 L180.49 145.54 L181.48 145.86 L182.47 146.17 L183.47 146.48 L184.46 146.77 L185.45 147.06 L186.44 147.34 L187.43 147.62 L188.42 147.9 L189.41 148.17 L190.4 148.44 L191.39 148.7 L192.39 148.96 L193.38 149.22 L194.37 149.47 L195.36 149.72 L196.35 149.97 L197.34 150.21 L198.33 150.45 L199.32 150.68 L200.31 150.91 L201.31 151.13 L202.3 151.35 L203.29 151.57 L204.28 151.78 L205.27 151.99 L206.26 152.19 L207.25 152.39 L208.24 152.59 L209.23 152.78 L210.23 152.97 L211.22 153.16 L212.21 153.34 L213.2 153.52 L214.19 153.7 L215.18 153.87 L216.17 154.05 L217.16 154.22 L218.15 154.39 L219.15 154.55 L220.14 154.72 L221.13 154.88 L222.12 155.04 L223.11 155.2 L224.1 155.35 L225.09 155.51 L226.08 155.66 L227.07 155.82 L228.07 155.97 L229.06 156.12 L230.05 156.27 L231.04 156.42 L232.03 156.56 L233.02 156.71 L234.01 156.86 L235 157 L235.99 157.15 L236.99 157.29 L237.98 157.43 L238.97 157.56 L239.96 157.7 L240.95 157.83 L241.94 157.96 L242.93 158.09 L243.92 158.22 L244.91 158.35 L245.91 158.48 L246.9 158.61 L247.89 158.73 L248.88 158.86 L249.87 158.98 L250.86 159.11 L251.85 159.23 L252.84 159.36 L253.83 159.48 L254.83 159.61 L255.82 159.73 L256.81 159.86 L257.8 159.98 L258.79 160.1 L259.78 160.22 L260.77 160.34 L261.76 160.46 L262.75 160.58 L263.75 160.7 L264.74 160.82 L265.73 160.94 L266.72 161.05 L267.71 161.17 L268.7 161.28 L269.69 161.39 L270.68 161.5 L271.67 161.61 L272.67 161.72 L273.66 161.83 L274.65 161.93 L275.64 162.04 L276.63 162.15 L277.62 162.25 L278.61 162.36 L279.6 162.46 L280.59 162.56 L281.59 162.67 L282.58 162.77 L283.57 162.87 L284.56 162.97 L285.55 163.07 L286.54 163.17 L287.53 163.27 L288.52 163.37 L289.52 163.47 L290.51 163.56 L291.5 163.66 L292.49 163.75 L293.48 163.84 L294.47 163.93 L295.46 164.02 L296.45 164.11 L297.44 164.2 L298.44 164.28 L299.43 164.37 L300.42 164.45 L301.41 164.53 L302.4 164.61 L303.39 164.69 L304.38 164.77 L305.37 164.84 L306.36 164.92 L307.36 164.99 L308.35 165.07 L309.34 165.14 L310.33 165.21 L311.32 165.28 L312.31 165.35 L313.3 165.42 L314.29 165.48 L315.28 165.55 L316.28 165.62 L317.27 165.68 L318.26 165.75 L319.25 165.82 L320.24 165.88 L321.23 165.95 L322.22 166.01 L323.21 166.08 L324.2 166.15 L325.2 166.21 L326.19 166.28 L327.18 166.34 L328.17 166.41 L329.16 166.47 L330.15 166.54 L331.14 166.6 L332.13 166.66 L333.12 166.73 L334.12 166.79 L335.11 166.85 L336.1 166.92 L337.09 166.98 L338.08 167.04 L339.07 167.1 L340.06 167.16 L341.05 167.23 L342.04 167.29 L343.04 167.35 L344.03 167.41 L345.02 167.47 L346.01 167.54 L347 167.6" stroke="#1c1ce0" stroke-width="1.5" stroke-dasharray="2 3.35"/>
<path d="M98.9 89.8V96.6 M96.6 89.8H101.2 M96.6 96.6H101.2" stroke="#0c3874" stroke-width="1.6"/>
<circle cx="98.9" cy="93.2" r="1.8" fill="#0c3874" stroke="none"/>
<path d="M109.1 104V110.4 M106.8 104H111.4 M106.8 110.4H111.4" stroke="#0c3874" stroke-width="1.6"/>
<circle cx="109.1" cy="107.2" r="1.8" fill="#0c3874" stroke="none"/>
<path d="M118.8 112.4V118.2 M116.5 112.4H121.1 M116.5 118.2H121.1" stroke="#0c3874" stroke-width="1.6"/>
<circle cx="118.8" cy="115.3" r="1.8" fill="#0c3874" stroke="none"/>
<path d="M128.7 118.5V123.5 M126.4 118.5H131 M126.4 123.5H131" stroke="#0c3874" stroke-width="1.6"/>
<circle cx="128.7" cy="121" r="1.8" fill="#0c3874" stroke="none"/>
<path d="M138.3 124.8V129.2 M136 124.8H140.6 M136 129.2H140.6" stroke="#0c3874" stroke-width="1.6"/>
<circle cx="138.3" cy="127" r="1.8" fill="#0c3874" stroke="none"/>
<path d="M150.2 132.4V136.2 M147.9 132.4H152.5 M147.9 136.2H152.5" stroke="#0c3874" stroke-width="1.6"/>
<circle cx="150.2" cy="134.3" r="1.8" fill="#0c3874" stroke="none"/>
<path d="M166 138.6V142 M163.7 138.6H168.3 M163.7 142H168.3" stroke="#0c3874" stroke-width="1.6"/>
<circle cx="166" cy="140.3" r="1.8" fill="#0c3874" stroke="none"/>
<path d="M184.9 143.5V146.5 M182.6 143.5H187.2 M182.6 146.5H187.2" stroke="#0c3874" stroke-width="1.6"/>
<circle cx="184.9" cy="145" r="1.8" fill="#0c3874" stroke="none"/>
<path d="M206.8 147.9V150.7 M204.5 147.9H209.1 M204.5 150.7H209.1" stroke="#0c3874" stroke-width="1.6"/>
<circle cx="206.8" cy="149.3" r="1.8" fill="#0c3874" stroke="none"/>
<path d="M234.3 152.2V154.8 M232 152.2H236.6 M232 154.8H236.6" stroke="#0c3874" stroke-width="1.6"/>
<circle cx="234.3" cy="153.5" r="1.8" fill="#0c3874" stroke="none"/>
<path d="M272.5 156.3V158.7 M270.2 156.3H274.8 M270.2 158.7H274.8" stroke="#0c3874" stroke-width="1.6"/>
<circle cx="272.5" cy="157.5" r="1.8" fill="#0c3874" stroke="none"/>
<path d="M325 160.5V162.7 M322.7 160.5H327.3 M322.7 162.7H327.3" stroke="#0c3874" stroke-width="1.6"/>
<circle cx="325" cy="161.6" r="1.8" fill="#0c3874" stroke="none"/>
</g>
<g fill="none">
<path d="M247.4 30.3H281.5" stroke="#000" stroke-width="1.5"/>
<path d="M247.4 45.0H281.5" stroke="#a80808" stroke-width="1.5" stroke-dasharray="2 3.2 5.3 2.8"/>
<path d="M247.4 60.0H281.5" stroke="#1c1ce0" stroke-width="1.5" stroke-dasharray="2 3.35"/>
<path d="M261.3 69.4V80.2M258.9 69.7H263.7M258.9 79.9H263.7" stroke="#9a3d0a" stroke-width="1.5"/>
<circle cx="261.3" cy="74.8" r="1.8" fill="#9a3d0a"/>
</g>
<g stroke="#1a1a1a" stroke-width="1.25" fill="none">
<path d="M82.8 17.1V281.8 M82.8 17.7H347 M82.8 202.4H347 M82.8 281.2H347"/>
<path d="M347 17.1V281.8" stroke="#484848"/>
<path d="M83 281.2V277.2 M83 202.4V198.4 M83 17.7V21.7 M95 281.2V279.3 M95 202.4V200.5 M95 17.7V19.6 M107 281.2V279.3 M107 202.4V200.5 M107 17.7V19.6 M119 281.2V279.3 M119 202.4V200.5 M119 17.7V19.6 M131 281.2V279.3 M131 202.4V200.5 M131 17.7V19.6 M143 281.2V277.2 M143 202.4V198.4 M143 17.7V21.7 M155 281.2V279.3 M155 202.4V200.5 M155 17.7V19.6 M167 281.2V279.3 M167 202.4V200.5 M167 17.7V19.6 M179 281.2V279.3 M179 202.4V200.5 M179 17.7V19.6 M191 281.2V279.3 M191 202.4V200.5 M191 17.7V19.6 M203 281.2V277.2 M203 202.4V198.4 M203 17.7V21.7 M215 281.2V279.3 M215 202.4V200.5 M215 17.7V19.6 M227 281.2V279.3 M227 202.4V200.5 M227 17.7V19.6 M239 281.2V279.3 M239 202.4V200.5 M239 17.7V19.6 M251 281.2V279.3 M251 202.4V200.5 M251 17.7V19.6 M263 281.2V277.2 M263 202.4V198.4 M263 17.7V21.7 M275 281.2V279.3 M275 202.4V200.5 M275 17.7V19.6 M287 281.2V279.3 M287 202.4V200.5 M287 17.7V19.6 M299 281.2V279.3 M299 202.4V200.5 M299 17.7V19.6 M311 281.2V279.3 M311 202.4V200.5 M311 17.7V19.6 M323 281.2V277.2 M323 202.4V198.4 M323 17.7V21.7 M335 281.2V279.3 M335 202.4V200.5 M335 17.7V19.6 M347 281.2V279.3 M347 202.4V200.5 M347 17.7V19.6 M82.8 181.1H86.8 M347 181.1H343 M82.8 174.52H84.7 M347 174.52H345.1 M82.8 167.94H84.7 M347 167.94H345.1 M82.8 161.36H84.7 M347 161.36H345.1 M82.8 154.78H84.7 M347 154.78H345.1 M82.8 148.2H86.8 M347 148.2H343 M82.8 141.62H84.7 M347 141.62H345.1 M82.8 135.04H84.7 M347 135.04H345.1 M82.8 128.46H84.7 M347 128.46H345.1 M82.8 121.88H84.7 M347 121.88H345.1 M82.8 115.3H86.8 M347 115.3H343 M82.8 108.72H84.7 M347 108.72H345.1 M82.8 102.14H84.7 M347 102.14H345.1 M82.8 95.56H84.7 M347 95.56H345.1 M82.8 88.98H84.7 M347 88.98H345.1 M82.8 82.4H86.8 M347 82.4H343 M82.8 75.82H84.7 M347 75.82H345.1 M82.8 69.24H84.7 M347 69.24H345.1 M82.8 62.66H84.7 M347 62.66H345.1 M82.8 56.08H84.7 M347 56.08H345.1 M82.8 49.5H86.8 M347 49.5H343 M82.8 42.92H84.7 M347 42.92H345.1 M82.8 36.34H84.7 M347 36.34H345.1 M82.8 29.76H84.7 M347 29.76H345.1 M82.8 23.18H84.7 M347 23.18H345.1 M82.8 277.12H84.7 M347 277.12H345.1 M82.8 272.75H84.7 M347 272.75H345.1 M82.8 268.38H86.8 M347 268.38H343 M82.8 264.01H84.7 M347 264.01H345.1 M82.8 259.64H84.7 M347 259.64H345.1 M82.8 255.27H84.7 M347 255.27H345.1 M82.8 250.9H86.8 M347 250.9H343 M82.8 246.53H84.7 M347 246.53H345.1 M82.8 242.16H84.7 M347 242.16H345.1 M82.8 237.79H84.7 M347 237.79H345.1 M82.8 233.42H86.8 M347 233.42H343 M82.8 229.05H84.7 M347 229.05H345.1 M82.8 224.68H84.7 M347 224.68H345.1 M82.8 220.31H84.7 M347 220.31H345.1 M82.8 215.94H86.8 M347 215.94H343 M82.8 211.57H84.7 M347 211.57H345.1" stroke-width="0.85"/>
</g>
<g font-family="'Liberation Sans', sans-serif" fill="#111">
<text transform="translate(79.8 185.5) scale(1.03 1.06)" font-size="16.3" text-anchor="end">0.0</text>
<text transform="translate(79.8 152.6) scale(1.03 1.06)" font-size="16.3" text-anchor="end">5.0</text>
<text transform="translate(79.8 119.7) scale(1.03 1.06)" font-size="16.3" text-anchor="end">10.0</text>
<text transform="translate(79.8 86.8) scale(1.03 1.06)" font-size="16.3" text-anchor="end">15.0</text>
<text transform="translate(79.8 53.9) scale(1.03 1.06)" font-size="16.3" text-anchor="end">20.0</text>
<text transform="translate(79.8 273.58) scale(1.03 1.06)" font-size="16.3" text-anchor="end">0.8</text>
<text transform="translate(79.8 256.1) scale(1.03 1.06)" font-size="16.3" text-anchor="end">1.0</text>
<text transform="translate(79.8 238.62) scale(1.03 1.06)" font-size="16.3" text-anchor="end">1.2</text>
<text transform="translate(79.8 221.14) scale(1.03 1.06)" font-size="16.3" text-anchor="end">1.4</text>
<text transform="translate(84.8 298) scale(1.03 1.06)" font-size="16.3" text-anchor="middle">0.00</text>
<text transform="translate(144.8 298) scale(1.03 1.06)" font-size="16.3" text-anchor="middle">0.10</text>
<text transform="translate(204.8 298) scale(1.03 1.06)" font-size="16.3" text-anchor="middle">0.20</text>
<text transform="translate(264.8 298) scale(1.03 1.06)" font-size="16.3" text-anchor="middle">0.30</text>
<text transform="translate(324.8 298) scale(1.03 1.06)" font-size="16.3" text-anchor="middle">0.40</text>
<text transform="translate(215 321) scale(1 1.06)" font-size="16.3" text-anchor="middle">x</text>
<text transform="translate(286.9 35) scale(1 1.02)" font-size="12.6" text-anchor="start">NNLO</text>
<text transform="translate(286.9 49.7) scale(1 1.02)" font-size="12.6" text-anchor="start">NLO</text>
<text transform="translate(286.9 64.2) scale(1 1.02)" font-size="12.6" text-anchor="start">LO</text>
<text transform="translate(286.9 82) scale(1 1.02)" font-size="12.6" text-anchor="start">NOMAD</text>
<text transform="translate(129 218.6) scale(1 1.02)" font-size="12.5" text-anchor="start">NNLO/LO</text>
<text transform="translate(129 233.3) scale(1 1.02)" font-size="12.5" text-anchor="start">NLO/LO</text>
<text transform="translate(144.9 192.6) scale(1.035 1.02)" font-size="13.2" text-anchor="start">NOMAD, νFe</text>
<text transform="translate(236.2 192.6) scale(1.045 1.02)" font-size="13.2" text-anchor="start">c quark</text>
<path d="M226.5 189.7H235.3M232.6 187.3L235.6 189.7L232.6 192.1" fill="none" stroke="#222" stroke-width="0.9"/>
<text transform="translate(27.3 238.7) rotate(-90) scale(1 1.06)" font-size="15.9">Ratio</text>
<text transform="translate(27.0 154.8) rotate(-90) scale(1 1.06)" font-size="15.8">σ<tspan font-size="11.5" dy="5">μμ</tspan><tspan dy="-5" dx="1.3">/</tspan><tspan dx="1.3">σ</tspan><tspan font-size="11.5" dy="5">inc</tspan><tspan dy="-3.2" dx="4.2" font-size="19">×</tspan><tspan dx="0.6" dy="-1.8">10</tspan><tspan font-size="11.5" dy="-5.4">3</tspan></text>
</g>
</svg>
</body></html>
